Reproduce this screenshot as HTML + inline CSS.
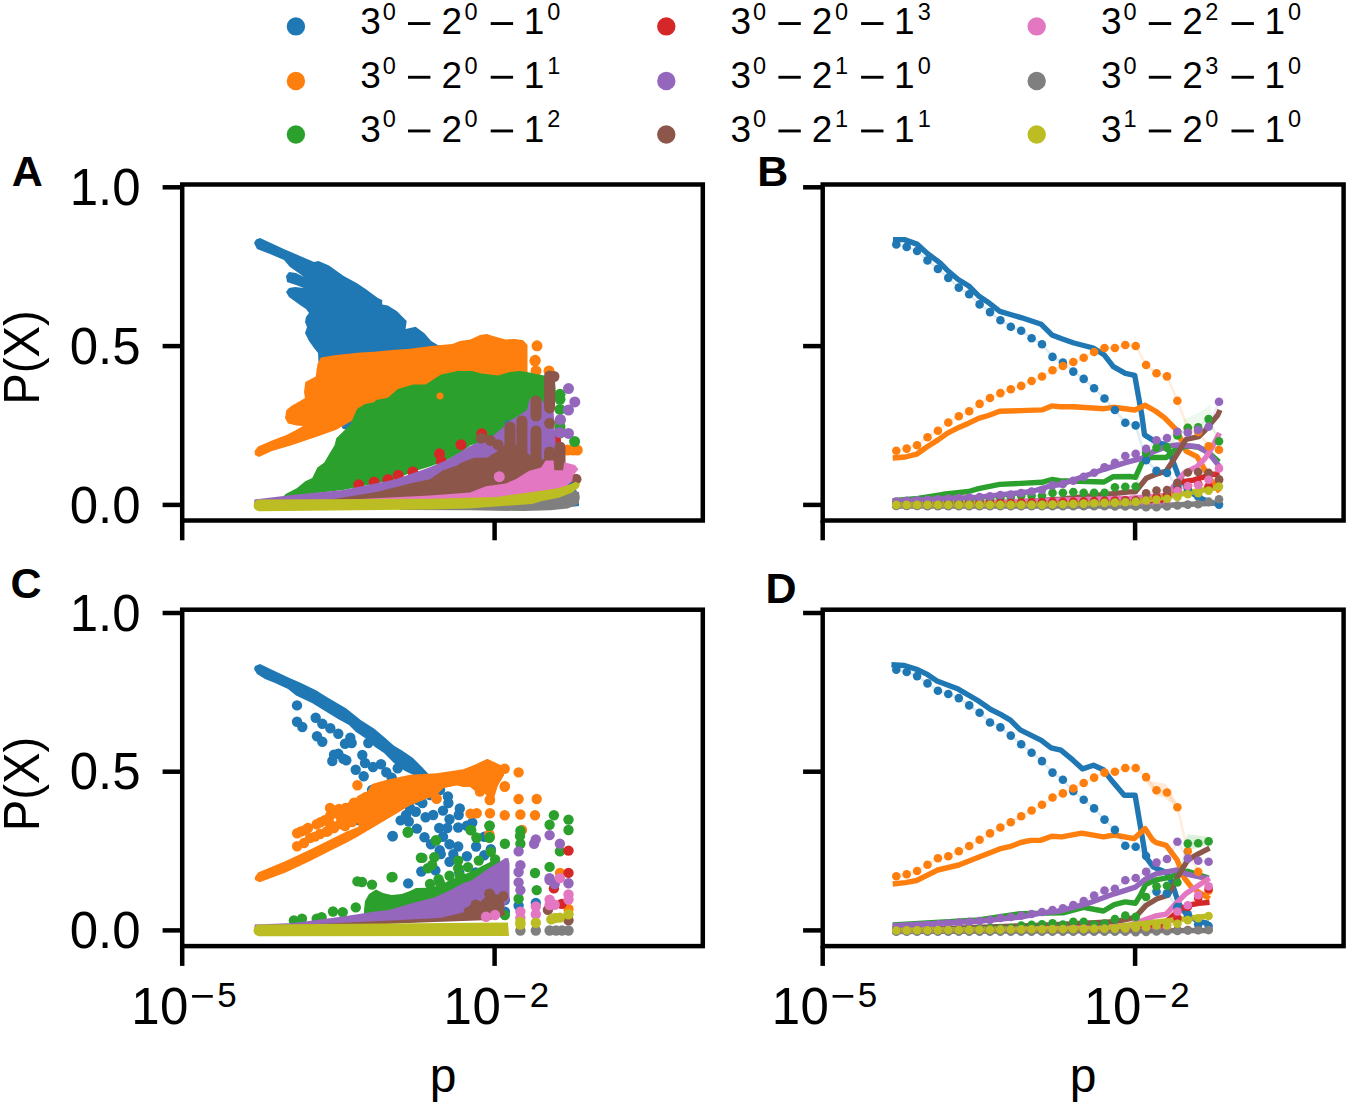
<!DOCTYPE html><html><head><meta charset="utf-8"><style>html,body{margin:0;padding:0;background:#fff;}svg{display:block;}</style></head><body>
<svg width="1350" height="1105" viewBox="0 0 1350 1105">
<rect width="1350" height="1105" fill="#fff"/>
<g>
<polygon points="254.0,243.0 256.0,239.5 260.0,238.0 284.4,249.3 314.0,261.9 318.5,261.1 329.0,265.6 336.3,270.7 343.7,275.9 357.0,283.3 366.0,289.3 377.8,298.1 382.2,300.0 382.2,304.4 387.8,305.6 396.7,311.1 406.7,321.1 405.6,328.9 415.6,326.7 424.4,333.3 431.1,341.1 437.8,345.0 445.0,347.0 500.0,362.0 530.0,400.0 560.0,450.0 579.0,497.0 579.0,506.0 570.0,507.0 560.0,480.0 500.0,440.0 420.0,420.0 380.0,421.0 362.0,425.0 352.0,430.5 343.0,429.0 338.0,420.0 330.0,390.0 318.5,362.0 318.0,353.0 314.0,348.0 309.0,341.0 305.0,333.0 307.0,327.0 305.0,322.0 306.0,317.0 309.0,313.0 306.0,309.0 300.0,305.0 289.0,297.0 286.0,292.0 289.0,288.0 295.0,287.0 304.0,288.0 296.0,285.0 287.0,282.0 286.0,276.0 289.0,272.0 296.0,273.0 304.0,277.0 300.0,274.0 290.0,267.0 284.0,260.0 270.0,254.0 257.0,249.0" fill="#1f77b4"/>
<polygon points="254.6,451.0 258.0,446.5 272.0,440.5 286.4,434.9 296.0,430.0 303.0,426.0 296.7,425.5 288.0,423.5 285.0,418.0 286.4,410.0 291.6,405.7 300.0,401.0 305.0,398.0 304.0,392.0 305.3,382.0 315.7,376.4 317.4,364.4 320.8,357.5 336.3,355.0 341.1,354.4 360.4,352.4 374.4,351.7 394.8,349.8 407.8,348.9 429.2,346.3 441.1,345.0 452.2,343.9 460.0,341.0 470.3,339.5 480.0,335.0 486.7,333.9 493.0,336.0 505.6,339.5 515.0,339.0 523.2,340.2 527.5,345.0 527.5,380.0 500.0,390.0 450.0,400.0 400.0,410.0 360.4,416.0 336.3,429.7 317.4,436.6 291.6,445.2 272.0,451.0 259.0,457.0 255.0,455.0" fill="#ff7f0e"/>
<g fill="#ff7f0e"><circle cx="537.0" cy="345.8" r="5.5"/><circle cx="535.2" cy="360.3" r="5.5"/><circle cx="535.0" cy="361.0" r="5.5"/><circle cx="536.0" cy="370.9" r="5.5"/><circle cx="549.0" cy="370.9" r="5.5"/><circle cx="567.5" cy="450.1" r="5.5"/><circle cx="573.0" cy="450.1" r="5.5"/><circle cx="577.3" cy="450.1" r="5.5"/></g>
<polygon points="283.0,497.0 285.6,494.0 296.7,488.2 305.3,481.3 312.2,477.9 317.4,467.6 324.3,462.4 329.4,453.8 334.6,445.2 336.3,438.3 343.2,431.5 350.0,425.0 357.0,409.1 365.0,404.0 374.1,402.2 376.0,400.0 387.8,397.8 397.8,388.9 413.3,384.4 425.6,384.4 441.1,374.4 457.8,371.1 472.2,371.1 480.0,373.3 498.0,375.4 510.0,372.0 519.7,370.9 527.0,372.0 536.0,374.1 550.1,376.5 555.0,382.0 556.0,395.0 553.4,409.0 541.5,405.0 527.3,418.6 505.6,420.8 501.8,431.3 495.5,438.9 470.3,445.2 462.7,451.5 446.4,460.3 430.0,466.6 412.0,472.0 394.8,479.6 343.2,490.0 291.6,496.0 285.0,499.0" fill="#2ca02c"/>
<g fill="#2ca02c"><circle cx="560.0" cy="394.3" r="5.5"/><circle cx="560.0" cy="399.3" r="5.5"/><circle cx="560.0" cy="409.4" r="5.5"/><circle cx="560.0" cy="420.8" r="5.5"/><circle cx="560.0" cy="427.0" r="5.5"/><circle cx="560.0" cy="433.0" r="5.5"/><circle cx="574.6" cy="441.5" r="5.5"/></g>
<g fill="#ff7f0e"><circle cx="440.0" cy="396.0" r="3.5"/></g>
<g fill="#d62728"><circle cx="358.7" cy="484.8" r="5.5"/><circle cx="374.1" cy="482.2" r="5.5"/><circle cx="387.9" cy="479.6" r="5.5"/><circle cx="398.2" cy="475.3" r="5.5"/><circle cx="412.8" cy="471.9" r="5.5"/><circle cx="439.5" cy="453.8" r="5.5"/><circle cx="441.3" cy="461.5" r="5.5"/><circle cx="461.0" cy="444.7" r="5.5"/><circle cx="481.7" cy="433.8" r="5.5"/><circle cx="544.7" cy="414.3" r="5.5"/><circle cx="555.6" cy="440.4" r="5.5"/></g>
<polygon points="254.0,503.0 254.6,499.4 291.6,495.0 343.2,490.0 394.8,479.6 429.2,467.6 446.4,460.3 460.0,452.3 470.0,446.0 492.6,436.0 503.4,427.3 505.6,423.0 515.0,418.0 527.0,410.0 529.5,399.0 540.0,398.0 545.0,404.0 553.4,408.9 556.0,447.0 554.5,458.0 540.0,475.0 500.0,495.0 400.0,505.0 254.0,507.0" fill="#9467bd"/>
<g fill="#9467bd"><circle cx="568.5" cy="388.6" r="5.5"/><circle cx="574.8" cy="401.9" r="5.5"/><circle cx="568.5" cy="410.0" r="5.5"/><circle cx="560.4" cy="419.5" r="5.5"/><circle cx="568.5" cy="433.4" r="5.5"/><circle cx="559.7" cy="432.6" r="5.5"/><circle cx="535.0" cy="409.0" r="5.5"/><circle cx="545.0" cy="415.0" r="5.5"/></g>
<polygon points="300.0,504.0 340.0,498.0 377.6,491.7 412.0,483.0 430.0,479.2 442.6,470.4 457.7,465.3 460.0,463.2 474.0,457.7 487.0,457.7 495.8,452.3 505.0,445.0 510.0,440.0 516.0,445.0 521.0,450.0 530.0,455.0 540.0,460.0 548.0,458.0 556.0,462.0 562.0,466.0 564.0,475.0 555.0,485.0 530.0,492.0 500.0,497.0 400.0,503.0 300.0,507.0" fill="#8c564b"/>
<polyline points="510.0,427.0 510.0,478.0" fill="none" stroke="#8c564b" stroke-width="11" stroke-linecap="round" stroke-linejoin="round"/>
<polyline points="521.9,421.0 521.9,478.0" fill="none" stroke="#8c564b" stroke-width="11" stroke-linecap="round" stroke-linejoin="round"/>
<polyline points="536.0,401.0 536.0,416.0" fill="none" stroke="#8c564b" stroke-width="11" stroke-linecap="round" stroke-linejoin="round"/>
<polyline points="536.0,431.0 536.0,460.0" fill="none" stroke="#8c564b" stroke-width="11" stroke-linecap="round" stroke-linejoin="round"/>
<polyline points="549.6,376.0 549.6,408.0" fill="none" stroke="#8c564b" stroke-width="11" stroke-linecap="round" stroke-linejoin="round"/>
<polyline points="549.6,452.0 549.6,468.0" fill="none" stroke="#8c564b" stroke-width="11" stroke-linecap="round" stroke-linejoin="round"/>
<polyline points="560.0,447.0 560.0,468.0" fill="none" stroke="#8c564b" stroke-width="11" stroke-linecap="round" stroke-linejoin="round"/>
<g fill="#8c564b"><circle cx="549.6" cy="423.3" r="5.5"/><circle cx="576.0" cy="479.2" r="5.5"/><circle cx="481.2" cy="438.2" r="5.5"/><circle cx="490.4" cy="440.4" r="5.5"/><circle cx="498.0" cy="444.7" r="5.5"/><circle cx="554.0" cy="376.5" r="5.5"/></g>
<polygon points="300.0,502.0 430.0,495.6 470.0,492.4 486.0,486.2 505.6,483.6 516.2,479.1 528.7,471.1 541.1,467.6 545.6,460.4 553.6,460.4 554.4,470.2 563.0,470.2 564.2,462.2 574.9,464.9 578.4,469.3 573.1,475.6 572.2,481.0 560.0,492.0 500.0,500.0 430.0,503.0 300.0,506.0" fill="#e377c2"/>
<g fill="#e377c2"><circle cx="499.3" cy="476.7" r="5.5"/></g>
<polygon points="400.0,505.0 540.0,500.0 570.0,490.0 579.0,492.0 579.8,497.8 578.4,504.0 567.8,508.4 550.0,510.2 523.3,511.1 470.0,510.2 400.0,510.0" fill="#7f7f7f"/>
<polygon points="259.4,499.6 430.0,498.7 470.0,497.8 496.7,496.9 523.3,493.3 541.1,490.7 558.9,488.0 569.6,484.4 575.8,481.8 580.0,484.0 578.4,488.0 572.2,492.4 558.9,497.8 541.1,501.3 532.2,504.0 505.6,505.8 470.0,508.4 430.0,509.4 259.4,511.2" fill="#bcbd22"/>
<g fill="#bcbd22"><circle cx="259.4" cy="505.4" r="5.8"/></g>
</g>
<g>
<polygon points="1183.0,420.0 1200.0,412.0 1210.0,405.0 1212.0,415.0 1200.0,425.0 1186.0,432.0" fill="#2ca02c" fill-opacity="0.08"/>
<polyline points="893.0,239.6 904.4,239.6 917.5,244.4 927.3,253.4 940.3,263.2 948.4,271.3 958.2,279.5 968.8,286.0 979.4,296.6 989.2,303.1 999.8,311.3 1010.4,314.5 1021.8,317.8 1041.3,324.3 1051.9,334.9 1062.5,339.0 1073.9,343.0 1093.3,348.0 1104.0,354.7 1113.3,366.7 1125.3,373.3 1134.7,375.3 1141.8,415.0 1144.5,434.9 1156.2,442.1 1166.7,445.0 1171.6,457.5 1178.0,474.7 1181.0,479.0 1190.0,492.0 1200.0,498.0 1210.0,502.0 1220.0,505.0" fill="none" stroke="#1f77b4" stroke-width="5.4" stroke-linejoin="round" stroke-linecap="butt"/>
<polyline points="892.7,458.0 905.3,457.0 916.6,454.2 926.4,447.2 937.7,440.1 947.6,433.1 958.8,427.4 968.7,423.2 978.5,418.3 988.4,415.5 999.6,411.3 1020.7,410.6 1041.9,409.9 1051.7,405.9 1060.0,406.7 1073.3,406.7 1104.0,408.7 1113.3,407.3 1134.7,410.0 1145.3,405.3 1155.3,411.0 1164.4,417.7 1175.2,428.6 1182.5,442.1 1186.1,451.2 1197.0,456.6 1202.4,465.7 1208.7,476.5 1214.2,484.7 1219.6,491.9" fill="none" stroke="#ff7f0e" stroke-width="5.4" stroke-linejoin="round" stroke-linecap="butt"/>
<polyline points="892.7,500.6 918.0,498.5 943.3,494.3 968.7,491.5 978.5,488.7 999.6,484.4 1041.9,482.3 1051.7,479.5 1060.0,480.7 1104.0,482.0 1113.3,476.7 1130.0,476.5 1135.4,477.4 1141.8,463.0 1145.8,457.5 1166.2,457.5 1175.2,449.4 1188.0,446.0 1198.0,447.0 1208.0,452.0 1219.0,462.0" fill="none" stroke="#2ca02c" stroke-width="5.4" stroke-linejoin="round" stroke-linecap="butt"/>
<polyline points="892.7,505.0 1160.0,502.0 1169.8,492.8 1180.7,482.0 1193.3,480.2 1202.4,477.4 1208.7,474.7 1219.6,473.8" fill="none" stroke="#d62728" stroke-width="5.4" stroke-linejoin="round" stroke-linecap="butt"/>
<polyline points="892.7,501.3 978.5,497.1 999.6,495.0 1032.0,491.5 1053.0,485.2 1060.0,484.7 1104.0,469.3 1125.3,462.7 1141.8,458.4 1152.6,452.1 1166.2,446.7 1177.1,444.9 1197.9,446.7 1208.7,453.0 1219.6,466.6" fill="none" stroke="#9467bd" stroke-width="5.4" stroke-linejoin="round" stroke-linecap="butt"/>
<polyline points="892.7,505.0 1000.0,503.0 1060.0,499.3 1130.0,491.9 1135.4,491.9 1146.3,478.3 1157.1,473.8 1166.2,471.1 1173.4,460.2 1186.1,439.4 1198.8,436.7 1205.1,430.4 1217.8,415.0 1220.0,410.0" fill="none" stroke="#8c564b" stroke-width="5.4" stroke-linejoin="round" stroke-linecap="butt"/>
<polyline points="892.7,505.0 1130.0,498.3 1166.2,495.5 1177.1,482.0 1184.3,472.9 1197.0,466.6 1205.1,458.4 1211.4,448.5 1219.6,433.1" fill="none" stroke="#e377c2" stroke-width="5.4" stroke-linejoin="round" stroke-linecap="butt"/>
<polyline points="892.7,506.0 1150.0,506.0 1220.0,503.0" fill="none" stroke="#7f7f7f" stroke-width="5.4" stroke-linejoin="round" stroke-linecap="butt"/>
<polyline points="892.7,505.0 1130.0,503.0 1220.0,487.0" fill="none" stroke="#bcbd22" stroke-width="5.4" stroke-linejoin="round" stroke-linecap="butt"/>
<polyline points="896.3,244.4 906.7,246.9 917.1,251.0 927.5,260.4 937.9,268.9 948.3,277.9 958.8,287.6 969.2,294.2 979.6,304.4 990.0,312.1 1000.4,320.2 1010.8,326.7 1021.2,330.8 1031.6,338.2 1042.0,344.2 1052.5,356.9 1062.9,362.6 1073.3,371.6 1083.7,378.9 1094.1,388.2 1104.5,398.5 1114.9,410.0 1125.3,422.7 1135.7,425.4 1146.1,460.2 1156.5,470.7 1167.0,472.9 1177.4,486.5 1187.8,489.0 1198.2,496.4 1208.6,501.9 1219.0,504.6" fill="none" stroke="#1f77b4" stroke-opacity="0.14" stroke-width="2.6" stroke-linejoin="round"/>
<g fill="#1f77b4"><circle cx="896.3" cy="244.4" r="4.3"/><circle cx="906.7" cy="246.9" r="4.3"/><circle cx="917.1" cy="251.0" r="4.3"/><circle cx="927.5" cy="260.4" r="4.3"/><circle cx="937.9" cy="268.9" r="4.3"/><circle cx="948.3" cy="277.9" r="4.3"/><circle cx="958.8" cy="287.6" r="4.3"/><circle cx="969.2" cy="294.2" r="4.3"/><circle cx="979.6" cy="304.4" r="4.3"/><circle cx="990.0" cy="312.1" r="4.3"/><circle cx="1000.4" cy="320.2" r="4.3"/><circle cx="1010.8" cy="326.7" r="4.3"/><circle cx="1021.2" cy="330.8" r="4.3"/><circle cx="1031.6" cy="338.2" r="4.3"/><circle cx="1042.0" cy="344.2" r="4.3"/><circle cx="1052.5" cy="356.9" r="4.3"/><circle cx="1062.9" cy="362.6" r="4.3"/><circle cx="1073.3" cy="371.6" r="4.3"/><circle cx="1083.7" cy="378.9" r="4.3"/><circle cx="1094.1" cy="388.2" r="4.3"/><circle cx="1104.5" cy="398.5" r="4.3"/><circle cx="1114.9" cy="410.0" r="4.3"/><circle cx="1125.3" cy="422.7" r="4.3"/><circle cx="1135.7" cy="425.4" r="4.3"/><circle cx="1146.1" cy="460.2" r="4.3"/><circle cx="1156.5" cy="470.7" r="4.3"/><circle cx="1167.0" cy="472.9" r="4.3"/><circle cx="1177.4" cy="486.5" r="4.3"/><circle cx="1187.8" cy="489.0" r="4.3"/><circle cx="1198.2" cy="496.4" r="4.3"/><circle cx="1208.6" cy="501.9" r="4.3"/><circle cx="1219.0" cy="504.6" r="4.3"/></g>
<polyline points="896.3,450.7 906.7,448.6 917.1,445.3 927.5,437.3 937.9,430.7 948.3,422.5 958.8,416.2 969.2,411.3 979.6,403.9 990.0,398.0 1000.4,393.1 1010.8,389.2 1021.2,385.9 1031.6,381.0 1042.0,376.5 1052.5,370.3 1062.9,366.0 1073.3,362.0 1083.7,357.7 1094.1,352.0 1104.5,348.0 1114.9,348.0 1125.3,345.0 1135.7,346.0 1146.1,365.0 1156.5,373.3 1167.0,376.4 1177.4,400.7 1187.8,428.0 1198.2,432.0 1208.6,446.2 1219.0,449.8" fill="none" stroke="#ff7f0e" stroke-opacity="0.14" stroke-width="2.6" stroke-linejoin="round"/>
<g fill="#ff7f0e"><circle cx="896.3" cy="450.7" r="4.3"/><circle cx="906.7" cy="448.6" r="4.3"/><circle cx="917.1" cy="445.3" r="4.3"/><circle cx="927.5" cy="437.3" r="4.3"/><circle cx="937.9" cy="430.7" r="4.3"/><circle cx="948.3" cy="422.5" r="4.3"/><circle cx="958.8" cy="416.2" r="4.3"/><circle cx="969.2" cy="411.3" r="4.3"/><circle cx="979.6" cy="403.9" r="4.3"/><circle cx="990.0" cy="398.0" r="4.3"/><circle cx="1000.4" cy="393.1" r="4.3"/><circle cx="1010.8" cy="389.2" r="4.3"/><circle cx="1021.2" cy="385.9" r="4.3"/><circle cx="1031.6" cy="381.0" r="4.3"/><circle cx="1042.0" cy="376.5" r="4.3"/><circle cx="1052.5" cy="370.3" r="4.3"/><circle cx="1062.9" cy="366.0" r="4.3"/><circle cx="1073.3" cy="362.0" r="4.3"/><circle cx="1083.7" cy="357.7" r="4.3"/><circle cx="1094.1" cy="352.0" r="4.3"/><circle cx="1104.5" cy="348.0" r="4.3"/><circle cx="1114.9" cy="348.0" r="4.3"/><circle cx="1125.3" cy="345.0" r="4.3"/><circle cx="1135.7" cy="346.0" r="4.3"/><circle cx="1146.1" cy="365.0" r="4.3"/><circle cx="1156.5" cy="373.3" r="4.3"/><circle cx="1167.0" cy="376.4" r="4.3"/><circle cx="1177.4" cy="400.7" r="4.3"/><circle cx="1187.8" cy="428.0" r="4.3"/><circle cx="1198.2" cy="432.0" r="4.3"/><circle cx="1208.6" cy="446.2" r="4.3"/><circle cx="1219.0" cy="449.8" r="4.3"/></g>
<polyline points="896.3,504.0 906.7,504.0 917.1,503.5 927.5,503.0 937.9,502.5 948.3,502.0 958.8,501.5 969.2,501.0 979.6,500.0 990.0,499.0 1000.4,498.0 1010.8,497.0 1021.2,495.7 1031.6,495.7 1042.0,495.7 1052.5,492.9 1062.9,492.7 1073.3,492.0 1083.7,492.7 1094.1,492.7 1104.5,492.7 1114.9,487.3 1125.3,486.7 1135.7,486.5 1146.1,453.0 1156.5,447.6 1167.0,447.6 1177.4,435.4 1187.8,427.7 1198.2,427.2 1208.6,419.1 1219.0,441.2" fill="none" stroke="#2ca02c" stroke-opacity="0.14" stroke-width="2.6" stroke-linejoin="round"/>
<g fill="#2ca02c"><circle cx="896.3" cy="504.0" r="4.3"/><circle cx="906.7" cy="504.0" r="4.3"/><circle cx="917.1" cy="503.5" r="4.3"/><circle cx="927.5" cy="503.0" r="4.3"/><circle cx="937.9" cy="502.5" r="4.3"/><circle cx="948.3" cy="502.0" r="4.3"/><circle cx="958.8" cy="501.5" r="4.3"/><circle cx="969.2" cy="501.0" r="4.3"/><circle cx="979.6" cy="500.0" r="4.3"/><circle cx="990.0" cy="499.0" r="4.3"/><circle cx="1000.4" cy="498.0" r="4.3"/><circle cx="1010.8" cy="497.0" r="4.3"/><circle cx="1021.2" cy="495.7" r="4.3"/><circle cx="1031.6" cy="495.7" r="4.3"/><circle cx="1042.0" cy="495.7" r="4.3"/><circle cx="1052.5" cy="492.9" r="4.3"/><circle cx="1062.9" cy="492.7" r="4.3"/><circle cx="1073.3" cy="492.0" r="4.3"/><circle cx="1083.7" cy="492.7" r="4.3"/><circle cx="1094.1" cy="492.7" r="4.3"/><circle cx="1104.5" cy="492.7" r="4.3"/><circle cx="1114.9" cy="487.3" r="4.3"/><circle cx="1125.3" cy="486.7" r="4.3"/><circle cx="1135.7" cy="486.5" r="4.3"/><circle cx="1146.1" cy="453.0" r="4.3"/><circle cx="1156.5" cy="447.6" r="4.3"/><circle cx="1167.0" cy="447.6" r="4.3"/><circle cx="1177.4" cy="435.4" r="4.3"/><circle cx="1187.8" cy="427.7" r="4.3"/><circle cx="1198.2" cy="427.2" r="4.3"/><circle cx="1208.6" cy="419.1" r="4.3"/><circle cx="1219.0" cy="441.2" r="4.3"/></g>
<polyline points="896.3,505.0 906.7,504.8 917.1,504.6 927.5,504.4 937.9,504.2 948.3,504.0 958.8,503.8 969.2,503.5 979.6,503.3 990.0,503.1 1000.4,502.9 1010.8,502.7 1021.2,502.5 1031.6,502.3 1042.0,502.1 1052.5,501.9 1062.9,501.7 1073.3,501.5 1083.7,501.2 1094.1,501.0 1104.5,500.8 1114.9,500.6 1125.3,500.4 1135.7,500.2 1146.1,500.0 1156.5,497.0 1167.0,495.0 1177.4,490.0 1187.8,486.0 1198.2,484.0 1208.6,486.5 1219.0,480.0" fill="none" stroke="#d62728" stroke-opacity="0.14" stroke-width="2.6" stroke-linejoin="round"/>
<g fill="#d62728"><circle cx="896.3" cy="505.0" r="4.3"/><circle cx="906.7" cy="504.8" r="4.3"/><circle cx="917.1" cy="504.6" r="4.3"/><circle cx="927.5" cy="504.4" r="4.3"/><circle cx="937.9" cy="504.2" r="4.3"/><circle cx="948.3" cy="504.0" r="4.3"/><circle cx="958.8" cy="503.8" r="4.3"/><circle cx="969.2" cy="503.5" r="4.3"/><circle cx="979.6" cy="503.3" r="4.3"/><circle cx="990.0" cy="503.1" r="4.3"/><circle cx="1000.4" cy="502.9" r="4.3"/><circle cx="1010.8" cy="502.7" r="4.3"/><circle cx="1021.2" cy="502.5" r="4.3"/><circle cx="1031.6" cy="502.3" r="4.3"/><circle cx="1042.0" cy="502.1" r="4.3"/><circle cx="1052.5" cy="501.9" r="4.3"/><circle cx="1062.9" cy="501.7" r="4.3"/><circle cx="1073.3" cy="501.5" r="4.3"/><circle cx="1083.7" cy="501.2" r="4.3"/><circle cx="1094.1" cy="501.0" r="4.3"/><circle cx="1104.5" cy="500.8" r="4.3"/><circle cx="1114.9" cy="500.6" r="4.3"/><circle cx="1125.3" cy="500.4" r="4.3"/><circle cx="1135.7" cy="500.2" r="4.3"/><circle cx="1146.1" cy="500.0" r="4.3"/><circle cx="1156.5" cy="497.0" r="4.3"/><circle cx="1167.0" cy="495.0" r="4.3"/><circle cx="1177.4" cy="490.0" r="4.3"/><circle cx="1187.8" cy="486.0" r="4.3"/><circle cx="1198.2" cy="484.0" r="4.3"/><circle cx="1208.6" cy="486.5" r="4.3"/><circle cx="1219.0" cy="480.0" r="4.3"/></g>
<polyline points="896.3,501.5 906.7,500.9 917.1,500.4 927.5,499.8 937.9,499.2 948.3,498.6 958.8,498.1 969.2,497.5 979.6,497.1 990.0,496.4 1000.4,495.0 1010.8,494.6 1021.2,493.0 1031.6,491.5 1042.0,490.0 1052.5,485.2 1062.9,484.0 1073.3,480.7 1083.7,476.7 1094.1,472.7 1104.5,467.3 1114.9,462.7 1125.3,456.0 1135.7,453.9 1146.1,448.9 1156.5,440.3 1167.0,438.1 1177.4,431.7 1187.8,432.6 1198.2,429.9 1208.6,426.8 1219.0,401.7" fill="none" stroke="#9467bd" stroke-opacity="0.14" stroke-width="2.6" stroke-linejoin="round"/>
<g fill="#9467bd"><circle cx="896.3" cy="501.5" r="4.3"/><circle cx="906.7" cy="500.9" r="4.3"/><circle cx="917.1" cy="500.4" r="4.3"/><circle cx="927.5" cy="499.8" r="4.3"/><circle cx="937.9" cy="499.2" r="4.3"/><circle cx="948.3" cy="498.6" r="4.3"/><circle cx="958.8" cy="498.1" r="4.3"/><circle cx="969.2" cy="497.5" r="4.3"/><circle cx="979.6" cy="497.1" r="4.3"/><circle cx="990.0" cy="496.4" r="4.3"/><circle cx="1000.4" cy="495.0" r="4.3"/><circle cx="1010.8" cy="494.6" r="4.3"/><circle cx="1021.2" cy="493.0" r="4.3"/><circle cx="1031.6" cy="491.5" r="4.3"/><circle cx="1042.0" cy="490.0" r="4.3"/><circle cx="1052.5" cy="485.2" r="4.3"/><circle cx="1062.9" cy="484.0" r="4.3"/><circle cx="1073.3" cy="480.7" r="4.3"/><circle cx="1083.7" cy="476.7" r="4.3"/><circle cx="1094.1" cy="472.7" r="4.3"/><circle cx="1104.5" cy="467.3" r="4.3"/><circle cx="1114.9" cy="462.7" r="4.3"/><circle cx="1125.3" cy="456.0" r="4.3"/><circle cx="1135.7" cy="453.9" r="4.3"/><circle cx="1146.1" cy="448.9" r="4.3"/><circle cx="1156.5" cy="440.3" r="4.3"/><circle cx="1167.0" cy="438.1" r="4.3"/><circle cx="1177.4" cy="431.7" r="4.3"/><circle cx="1187.8" cy="432.6" r="4.3"/><circle cx="1198.2" cy="429.9" r="4.3"/><circle cx="1208.6" cy="426.8" r="4.3"/><circle cx="1219.0" cy="401.7" r="4.3"/></g>
<polyline points="896.3,505.5 906.7,505.4 917.1,505.4 927.5,505.3 937.9,505.2 948.3,505.2 958.8,505.1 969.2,505.0 979.6,505.0 990.0,504.9 1000.4,504.8 1010.8,504.8 1021.2,504.7 1031.6,504.6 1042.0,504.6 1052.5,504.5 1062.9,504.5 1073.3,504.0 1083.7,503.5 1094.1,503.0 1104.5,502.5 1114.9,502.0 1125.3,501.5 1135.7,501.0 1146.1,493.3 1156.5,490.6 1167.0,490.1 1177.4,482.9 1187.8,472.5 1198.2,472.0 1208.6,472.9 1219.0,479.3" fill="none" stroke="#8c564b" stroke-opacity="0.14" stroke-width="2.6" stroke-linejoin="round"/>
<g fill="#8c564b"><circle cx="896.3" cy="505.5" r="4.3"/><circle cx="906.7" cy="505.4" r="4.3"/><circle cx="917.1" cy="505.4" r="4.3"/><circle cx="927.5" cy="505.3" r="4.3"/><circle cx="937.9" cy="505.2" r="4.3"/><circle cx="948.3" cy="505.2" r="4.3"/><circle cx="958.8" cy="505.1" r="4.3"/><circle cx="969.2" cy="505.0" r="4.3"/><circle cx="979.6" cy="505.0" r="4.3"/><circle cx="990.0" cy="504.9" r="4.3"/><circle cx="1000.4" cy="504.8" r="4.3"/><circle cx="1010.8" cy="504.8" r="4.3"/><circle cx="1021.2" cy="504.7" r="4.3"/><circle cx="1031.6" cy="504.6" r="4.3"/><circle cx="1042.0" cy="504.6" r="4.3"/><circle cx="1052.5" cy="504.5" r="4.3"/><circle cx="1062.9" cy="504.5" r="4.3"/><circle cx="1073.3" cy="504.0" r="4.3"/><circle cx="1083.7" cy="503.5" r="4.3"/><circle cx="1094.1" cy="503.0" r="4.3"/><circle cx="1104.5" cy="502.5" r="4.3"/><circle cx="1114.9" cy="502.0" r="4.3"/><circle cx="1125.3" cy="501.5" r="4.3"/><circle cx="1135.7" cy="501.0" r="4.3"/><circle cx="1146.1" cy="493.3" r="4.3"/><circle cx="1156.5" cy="490.6" r="4.3"/><circle cx="1167.0" cy="490.1" r="4.3"/><circle cx="1177.4" cy="482.9" r="4.3"/><circle cx="1187.8" cy="472.5" r="4.3"/><circle cx="1198.2" cy="472.0" r="4.3"/><circle cx="1208.6" cy="472.9" r="4.3"/><circle cx="1219.0" cy="479.3" r="4.3"/></g>
<polyline points="896.3,505.5 906.7,505.5 917.1,505.4 927.5,505.4 937.9,505.3 948.3,505.3 958.8,505.3 969.2,505.2 979.6,505.2 990.0,505.2 1000.4,505.1 1010.8,505.1 1021.2,505.0 1031.6,505.0 1042.0,505.0 1052.5,504.9 1062.9,504.9 1073.3,504.8 1083.7,504.8 1094.1,504.8 1104.5,504.7 1114.9,504.7 1125.3,504.7 1135.7,504.6 1146.1,504.6 1156.5,504.5 1167.0,504.5 1177.4,491.0 1187.8,486.0 1198.2,485.1 1208.6,479.7 1219.0,468.4" fill="none" stroke="#e377c2" stroke-opacity="0.14" stroke-width="2.6" stroke-linejoin="round"/>
<g fill="#e377c2"><circle cx="896.3" cy="505.5" r="4.3"/><circle cx="906.7" cy="505.5" r="4.3"/><circle cx="917.1" cy="505.4" r="4.3"/><circle cx="927.5" cy="505.4" r="4.3"/><circle cx="937.9" cy="505.3" r="4.3"/><circle cx="948.3" cy="505.3" r="4.3"/><circle cx="958.8" cy="505.3" r="4.3"/><circle cx="969.2" cy="505.2" r="4.3"/><circle cx="979.6" cy="505.2" r="4.3"/><circle cx="990.0" cy="505.2" r="4.3"/><circle cx="1000.4" cy="505.1" r="4.3"/><circle cx="1010.8" cy="505.1" r="4.3"/><circle cx="1021.2" cy="505.0" r="4.3"/><circle cx="1031.6" cy="505.0" r="4.3"/><circle cx="1042.0" cy="505.0" r="4.3"/><circle cx="1052.5" cy="504.9" r="4.3"/><circle cx="1062.9" cy="504.9" r="4.3"/><circle cx="1073.3" cy="504.8" r="4.3"/><circle cx="1083.7" cy="504.8" r="4.3"/><circle cx="1094.1" cy="504.8" r="4.3"/><circle cx="1104.5" cy="504.7" r="4.3"/><circle cx="1114.9" cy="504.7" r="4.3"/><circle cx="1125.3" cy="504.7" r="4.3"/><circle cx="1135.7" cy="504.6" r="4.3"/><circle cx="1146.1" cy="504.6" r="4.3"/><circle cx="1156.5" cy="504.5" r="4.3"/><circle cx="1167.0" cy="504.5" r="4.3"/><circle cx="1177.4" cy="491.0" r="4.3"/><circle cx="1187.8" cy="486.0" r="4.3"/><circle cx="1198.2" cy="485.1" r="4.3"/><circle cx="1208.6" cy="479.7" r="4.3"/><circle cx="1219.0" cy="468.4" r="4.3"/></g>
<polyline points="896.3,506.0 906.7,506.0 917.1,506.0 927.5,506.1 937.9,506.1 948.3,506.1 958.8,506.1 969.2,506.1 979.6,506.1 990.0,506.2 1000.4,506.2 1010.8,506.2 1021.2,506.2 1031.6,506.2 1042.0,506.2 1052.5,506.3 1062.9,506.3 1073.3,506.3 1083.7,506.3 1094.1,506.3 1104.5,506.3 1114.9,506.4 1125.3,506.4 1135.7,506.4 1146.1,507.3 1156.5,507.3 1167.0,506.4 1177.4,505.5 1187.8,504.6 1198.2,504.1 1208.6,501.9 1219.0,499.2" fill="none" stroke="#7f7f7f" stroke-opacity="0.14" stroke-width="2.6" stroke-linejoin="round"/>
<g fill="#7f7f7f"><circle cx="896.3" cy="506.0" r="4.3"/><circle cx="906.7" cy="506.0" r="4.3"/><circle cx="917.1" cy="506.0" r="4.3"/><circle cx="927.5" cy="506.1" r="4.3"/><circle cx="937.9" cy="506.1" r="4.3"/><circle cx="948.3" cy="506.1" r="4.3"/><circle cx="958.8" cy="506.1" r="4.3"/><circle cx="969.2" cy="506.1" r="4.3"/><circle cx="979.6" cy="506.1" r="4.3"/><circle cx="990.0" cy="506.2" r="4.3"/><circle cx="1000.4" cy="506.2" r="4.3"/><circle cx="1010.8" cy="506.2" r="4.3"/><circle cx="1021.2" cy="506.2" r="4.3"/><circle cx="1031.6" cy="506.2" r="4.3"/><circle cx="1042.0" cy="506.2" r="4.3"/><circle cx="1052.5" cy="506.3" r="4.3"/><circle cx="1062.9" cy="506.3" r="4.3"/><circle cx="1073.3" cy="506.3" r="4.3"/><circle cx="1083.7" cy="506.3" r="4.3"/><circle cx="1094.1" cy="506.3" r="4.3"/><circle cx="1104.5" cy="506.3" r="4.3"/><circle cx="1114.9" cy="506.4" r="4.3"/><circle cx="1125.3" cy="506.4" r="4.3"/><circle cx="1135.7" cy="506.4" r="4.3"/><circle cx="1146.1" cy="507.3" r="4.3"/><circle cx="1156.5" cy="507.3" r="4.3"/><circle cx="1167.0" cy="506.4" r="4.3"/><circle cx="1177.4" cy="505.5" r="4.3"/><circle cx="1187.8" cy="504.6" r="4.3"/><circle cx="1198.2" cy="504.1" r="4.3"/><circle cx="1208.6" cy="501.9" r="4.3"/><circle cx="1219.0" cy="499.2" r="4.3"/></g>
<polyline points="896.3,504.9 906.7,504.9 917.1,504.9 927.5,504.9 937.9,504.9 948.3,504.9 958.8,504.9 969.2,504.9 979.6,504.9 990.0,504.9 1000.4,504.9 1010.8,504.9 1021.2,504.9 1031.6,504.9 1042.0,504.9 1052.5,504.5 1062.9,504.2 1073.3,503.9 1083.7,503.6 1094.1,503.2 1104.5,502.9 1114.9,502.6 1125.3,502.3 1135.7,501.9 1146.1,500.5 1156.5,499.6 1167.0,498.7 1177.4,496.9 1187.8,494.2 1198.2,493.3 1208.6,490.6 1219.0,486.5" fill="none" stroke="#bcbd22" stroke-opacity="0.14" stroke-width="2.6" stroke-linejoin="round"/>
<g fill="#bcbd22"><circle cx="896.3" cy="504.9" r="4.3"/><circle cx="906.7" cy="504.9" r="4.3"/><circle cx="917.1" cy="504.9" r="4.3"/><circle cx="927.5" cy="504.9" r="4.3"/><circle cx="937.9" cy="504.9" r="4.3"/><circle cx="948.3" cy="504.9" r="4.3"/><circle cx="958.8" cy="504.9" r="4.3"/><circle cx="969.2" cy="504.9" r="4.3"/><circle cx="979.6" cy="504.9" r="4.3"/><circle cx="990.0" cy="504.9" r="4.3"/><circle cx="1000.4" cy="504.9" r="4.3"/><circle cx="1010.8" cy="504.9" r="4.3"/><circle cx="1021.2" cy="504.9" r="4.3"/><circle cx="1031.6" cy="504.9" r="4.3"/><circle cx="1042.0" cy="504.9" r="4.3"/><circle cx="1052.5" cy="504.5" r="4.3"/><circle cx="1062.9" cy="504.2" r="4.3"/><circle cx="1073.3" cy="503.9" r="4.3"/><circle cx="1083.7" cy="503.6" r="4.3"/><circle cx="1094.1" cy="503.2" r="4.3"/><circle cx="1104.5" cy="502.9" r="4.3"/><circle cx="1114.9" cy="502.6" r="4.3"/><circle cx="1125.3" cy="502.3" r="4.3"/><circle cx="1135.7" cy="501.9" r="4.3"/><circle cx="1146.1" cy="500.5" r="4.3"/><circle cx="1156.5" cy="499.6" r="4.3"/><circle cx="1167.0" cy="498.7" r="4.3"/><circle cx="1177.4" cy="496.9" r="4.3"/><circle cx="1187.8" cy="494.2" r="4.3"/><circle cx="1198.2" cy="493.3" r="4.3"/><circle cx="1208.6" cy="490.6" r="4.3"/><circle cx="1219.0" cy="486.5" r="4.3"/></g>
</g>
<g>
<polygon points="255.0,666.0 260.0,664.0 272.0,669.7 289.0,677.7 301.0,683.0 316.0,690.3 328.0,697.7 346.0,708.3 361.0,720.3 374.0,728.5 385.0,737.7 394.0,745.7 402.0,750.5 413.0,758.0 422.0,767.0 428.0,773.5 434.0,779.0 434.0,784.0 420.0,778.0 405.0,771.0 394.0,763.0 384.0,753.0 375.0,747.0 365.0,738.0 356.0,732.0 349.0,725.0 338.0,719.0 325.0,711.0 312.0,703.0 296.0,695.5 288.0,689.0 275.0,683.0 265.0,679.0 257.0,674.0 254.0,669.0" fill="#1f77b4"/>
<g fill="#1f77b4"><circle cx="297.0" cy="705.4" r="5.2"/><circle cx="297.0" cy="721.7" r="5.2"/><circle cx="302.3" cy="727.0" r="5.2"/><circle cx="315.7" cy="717.7" r="5.2"/><circle cx="322.3" cy="723.7" r="5.2"/><circle cx="330.3" cy="728.3" r="5.2"/><circle cx="338.3" cy="733.7" r="5.2"/><circle cx="317.0" cy="736.3" r="5.2"/><circle cx="322.3" cy="741.7" r="5.2"/><circle cx="350.3" cy="737.7" r="5.2"/><circle cx="345.0" cy="743.7" r="5.2"/><circle cx="351.7" cy="743.0" r="5.2"/><circle cx="338.3" cy="753.7" r="5.2"/><circle cx="346.3" cy="760.3" r="5.2"/><circle cx="332.3" cy="761.0" r="5.2"/><circle cx="355.7" cy="769.7" r="5.2"/><circle cx="363.7" cy="776.3" r="5.2"/><circle cx="362.3" cy="755.0" r="5.2"/><circle cx="365.0" cy="763.0" r="5.2"/><circle cx="368.3" cy="743.0" r="5.2"/><circle cx="373.0" cy="767.0" r="5.2"/><circle cx="381.0" cy="764.3" r="5.2"/><circle cx="386.3" cy="772.3" r="5.2"/><circle cx="391.7" cy="777.7" r="5.2"/><circle cx="397.7" cy="768.3" r="5.2"/><circle cx="343.3" cy="758.7" r="5.2"/><circle cx="334.0" cy="754.7" r="5.2"/><circle cx="358.0" cy="820.0" r="5.2"/><circle cx="392.7" cy="836.0" r="5.2"/><circle cx="372.0" cy="790.0" r="5.2"/><circle cx="380.0" cy="800.0" r="5.2"/><circle cx="392.5" cy="836.2" r="5.2"/><circle cx="400.6" cy="820.4" r="5.2"/><circle cx="408.8" cy="821.5" r="5.2"/><circle cx="406.1" cy="815.0" r="5.2"/><circle cx="415.8" cy="811.7" r="5.2"/><circle cx="422.4" cy="803.0" r="5.2"/><circle cx="416.9" cy="828.6" r="5.2"/><circle cx="424.5" cy="837.2" r="5.2"/><circle cx="425.6" cy="817.2" r="5.2"/><circle cx="433.2" cy="815.0" r="5.2"/><circle cx="431.0" cy="844.3" r="5.2"/><circle cx="439.7" cy="850.3" r="5.2"/><circle cx="440.8" cy="854.1" r="5.2"/><circle cx="439.2" cy="828.0" r="5.2"/><circle cx="443.0" cy="836.7" r="5.2"/><circle cx="447.3" cy="828.0" r="5.2"/><circle cx="449.5" cy="819.3" r="5.2"/><circle cx="443.0" cy="810.6" r="5.2"/><circle cx="448.4" cy="803.0" r="5.2"/><circle cx="447.9" cy="796.5" r="5.2"/><circle cx="459.8" cy="808.5" r="5.2"/><circle cx="458.7" cy="815.0" r="5.2"/><circle cx="458.2" cy="827.5" r="5.2"/><circle cx="449.5" cy="844.3" r="5.2"/><circle cx="458.2" cy="846.5" r="5.2"/><circle cx="453.3" cy="854.1" r="5.2"/><circle cx="449.5" cy="861.7" r="5.2"/><circle cx="466.9" cy="856.2" r="5.2"/><circle cx="472.3" cy="822.6" r="5.2"/><circle cx="466.9" cy="825.8" r="5.2"/><circle cx="476.1" cy="846.5" r="5.2"/><circle cx="484.3" cy="836.7" r="5.2"/><circle cx="490.8" cy="849.2" r="5.2"/><circle cx="484.3" cy="855.2" r="5.2"/><circle cx="421.3" cy="871.5" r="5.2"/><circle cx="435.4" cy="870.4" r="5.2"/><circle cx="459.3" cy="872.5" r="5.2"/><circle cx="408.2" cy="883.4" r="5.2"/><circle cx="468.0" cy="879.0" r="5.2"/><circle cx="475.6" cy="872.5" r="5.2"/><circle cx="495.1" cy="879.0" r="5.2"/><circle cx="410.0" cy="808.0" r="5.2"/><circle cx="418.0" cy="800.0" r="5.2"/><circle cx="430.0" cy="795.0" r="5.2"/><circle cx="440.0" cy="790.0" r="5.2"/><circle cx="489.4" cy="903.0" r="5.2"/><circle cx="504.9" cy="911.6" r="5.2"/><circle cx="518.6" cy="905.6" r="5.2"/><circle cx="535.8" cy="903.0" r="5.2"/><circle cx="504.9" cy="900.0" r="5.2"/></g>
<polygon points="254.8,877.3 258.0,872.4 285.7,861.0 310.2,849.6 326.4,841.4 346.0,831.7 362.3,825.2 375.3,815.4 391.6,805.6 400.0,800.0 410.0,792.0 420.0,786.0 430.0,782.0 440.0,778.0 460.0,774.0 470.0,770.0 476.7,764.0 487.3,759.0 496.0,763.0 500.0,768.0 504.0,775.0 500.0,782.0 495.0,790.0 492.7,802.7 490.0,798.7 483.3,792.0 476.7,792.0 470.0,786.7 463.3,786.7 456.7,785.3 443.3,788.0 436.7,794.7 423.3,800.0 410.0,805.3 396.7,813.3 383.3,821.3 368.8,830.0 356.7,837.3 346.0,843.1 326.4,852.8 310.2,861.0 285.7,872.4 259.7,882.2 255.0,880.0" fill="#ff7f0e"/>
<polygon points="355.0,812.0 362.0,800.0 372.0,784.0 386.0,780.0 410.0,774.7 436.7,773.3 463.3,769.3 476.7,764.0 487.3,759.0 496.0,763.0 503.0,766.0 504.0,775.0 498.0,785.0 492.7,802.7 490.0,798.7 483.3,792.0 476.7,792.0 470.0,786.7 463.3,786.7 456.7,785.3 443.3,788.0 436.7,794.7 423.3,800.0 410.0,805.3 396.7,813.3 383.3,821.3 370.0,829.0 360.0,832.0" fill="#ff7f0e"/>
<g fill="#ff7f0e"><circle cx="297.1" cy="833.3" r="5.2"/><circle cx="301.0" cy="831.5" r="5.2"/><circle cx="305.3" cy="830.0" r="5.2"/><circle cx="297.1" cy="846.3" r="5.2"/><circle cx="315.0" cy="836.6" r="5.2"/><circle cx="320.0" cy="834.0" r="5.2"/><circle cx="326.4" cy="831.7" r="5.2"/><circle cx="334.6" cy="826.8" r="5.2"/><circle cx="341.1" cy="823.5" r="5.2"/><circle cx="316.7" cy="824.3" r="5.2"/><circle cx="320.5" cy="822.3" r="5.2"/><circle cx="324.8" cy="820.3" r="5.2"/><circle cx="333.0" cy="810.5" r="5.2"/><circle cx="339.0" cy="809.0" r="5.2"/><circle cx="346.0" cy="808.0" r="5.2"/><circle cx="350.9" cy="820.3" r="5.2"/><circle cx="359.0" cy="808.9" r="5.2"/><circle cx="363.9" cy="799.1" r="5.2"/><circle cx="357.4" cy="785.2" r="5.2"/><circle cx="354.0" cy="802.7" r="5.2"/><circle cx="363.3" cy="798.7" r="5.2"/><circle cx="346.0" cy="808.0" r="5.2"/><circle cx="330.0" cy="808.0" r="5.2"/><circle cx="350.0" cy="820.0" r="5.2"/><circle cx="330.0" cy="824.0" r="5.2"/><circle cx="504.7" cy="768.7" r="5.2"/><circle cx="504.7" cy="786.7" r="5.2"/><circle cx="490.0" cy="800.0" r="5.2"/><circle cx="490.0" cy="813.3" r="5.2"/><circle cx="470.5" cy="813.6" r="5.2"/><circle cx="476.7" cy="813.3" r="5.2"/><circle cx="504.7" cy="815.3" r="5.2"/><circle cx="436.7" cy="798.7" r="5.2"/><circle cx="518.6" cy="772.4" r="5.2"/><circle cx="518.6" cy="799.0" r="5.2"/><circle cx="536.7" cy="799.0" r="5.2"/><circle cx="504.9" cy="786.1" r="5.2"/><circle cx="489.4" cy="834.3" r="5.2"/><circle cx="522.0" cy="830.0" r="5.2"/><circle cx="520.4" cy="814.5" r="5.2"/><circle cx="535.0" cy="815.3" r="5.2"/><circle cx="568.5" cy="909.0" r="5.2"/><circle cx="560.0" cy="873.0" r="5.2"/><circle cx="489.7" cy="799.8" r="5.2"/><circle cx="479.9" cy="791.6" r="5.2"/><circle cx="436.1" cy="798.1" r="5.2"/><circle cx="308.0" cy="828.0" r="5.2"/><circle cx="328.0" cy="831.0" r="5.2"/><circle cx="334.0" cy="828.0" r="5.2"/><circle cx="340.0" cy="824.0" r="5.2"/><circle cx="330.0" cy="816.0" r="5.2"/><circle cx="352.0" cy="806.0" r="5.2"/><circle cx="340.0" cy="816.0" r="5.2"/><circle cx="346.0" cy="818.0" r="5.2"/><circle cx="351.0" cy="820.0" r="5.2"/><circle cx="361.0" cy="800.0" r="5.2"/><circle cx="366.0" cy="797.0" r="5.2"/><circle cx="352.0" cy="812.0" r="5.2"/><circle cx="358.0" cy="808.0" r="5.2"/><circle cx="364.0" cy="804.0" r="5.2"/><circle cx="345.0" cy="826.0" r="5.2"/><circle cx="352.0" cy="822.0" r="5.2"/><circle cx="358.0" cy="818.0" r="5.2"/><circle cx="310.0" cy="838.0" r="5.2"/><circle cx="304.0" cy="843.0" r="5.2"/></g>
<polygon points="364.0,910.0 365.0,901.0 369.0,894.0 376.0,889.5 383.0,893.0 391.6,895.0 401.7,894.0 410.0,891.0 416.0,888.0 426.7,887.7 439.7,885.6 450.0,880.0 470.0,872.0 490.0,862.0 500.0,858.0 500.0,900.0 364.0,915.0" fill="#2ca02c"/>
<g fill="#2ca02c"><circle cx="293.9" cy="920.4" r="5.2"/><circle cx="302.0" cy="918.8" r="5.2"/><circle cx="316.7" cy="918.8" r="5.2"/><circle cx="321.6" cy="917.2" r="5.2"/><circle cx="333.0" cy="911.5" r="5.2"/><circle cx="342.7" cy="912.3" r="5.2"/><circle cx="355.8" cy="907.4" r="5.2"/><circle cx="357.4" cy="881.4" r="5.2"/><circle cx="362.0" cy="882.0" r="5.2"/><circle cx="372.0" cy="884.6" r="5.2"/><circle cx="391.6" cy="877.3" r="5.2"/><circle cx="407.9" cy="831.7" r="5.2"/><circle cx="420.9" cy="857.7" r="5.2"/><circle cx="408.2" cy="832.4" r="5.2"/><circle cx="435.9" cy="840.5" r="5.2"/><circle cx="471.2" cy="830.2" r="5.2"/><circle cx="476.7" cy="837.8" r="5.2"/><circle cx="489.7" cy="825.8" r="5.2"/><circle cx="489.7" cy="837.2" r="5.2"/><circle cx="490.8" cy="851.9" r="5.2"/><circle cx="422.4" cy="857.9" r="5.2"/><circle cx="434.3" cy="857.3" r="5.2"/><circle cx="427.8" cy="868.2" r="5.2"/><circle cx="432.1" cy="864.9" r="5.2"/><circle cx="458.2" cy="860.6" r="5.2"/><circle cx="458.2" cy="868.2" r="5.2"/><circle cx="468.0" cy="867.1" r="5.2"/><circle cx="478.8" cy="860.6" r="5.2"/><circle cx="495.1" cy="859.5" r="5.2"/><circle cx="449.5" cy="875.8" r="5.2"/><circle cx="438.6" cy="879.1" r="5.2"/><circle cx="392.5" cy="876.9" r="5.2"/><circle cx="470.5" cy="830.0" r="5.2"/><circle cx="476.5" cy="837.7" r="5.2"/><circle cx="504.9" cy="843.7" r="5.2"/><circle cx="520.4" cy="830.8" r="5.2"/><circle cx="520.4" cy="843.7" r="5.2"/><circle cx="553.9" cy="815.3" r="5.2"/><circle cx="549.6" cy="824.8" r="5.2"/><circle cx="568.5" cy="819.6" r="5.2"/><circle cx="568.5" cy="830.0" r="5.2"/><circle cx="559.9" cy="851.4" r="5.2"/><circle cx="549.6" cy="866.9" r="5.2"/><circle cx="535.0" cy="873.0" r="5.2"/><circle cx="536.7" cy="890.1" r="5.2"/><circle cx="518.6" cy="898.7" r="5.2"/><circle cx="504.9" cy="915.1" r="5.2"/><circle cx="498.0" cy="904.7" r="5.2"/><circle cx="489.4" cy="825.7" r="5.2"/><circle cx="489.4" cy="837.7" r="5.2"/><circle cx="436.1" cy="840.3" r="5.2"/><circle cx="407.7" cy="832.5" r="5.2"/><circle cx="520.0" cy="836.0" r="5.2"/><circle cx="504.0" cy="880.0" r="5.2"/><circle cx="440.0" cy="883.0" r="5.2"/><circle cx="430.0" cy="884.0" r="5.2"/><circle cx="460.0" cy="876.0" r="5.2"/></g>
<g fill="#d62728"><circle cx="568.5" cy="850.6" r="5.2"/><circle cx="568.5" cy="872.9" r="5.2"/><circle cx="553.9" cy="888.4" r="5.2"/><circle cx="561.6" cy="903.9" r="5.2"/></g>
<polygon points="254.0,931.0 254.8,924.5 293.9,922.9 342.7,916.4 375.3,911.5 388.7,910.0 412.6,903.0 434.3,897.5 450.6,889.9 462.5,883.4 472.3,880.1 488.6,868.2 499.7,861.8 504.9,858.3 508.3,858.0 509.5,863.5 509.5,900.0 500.0,912.0 450.0,920.0 254.0,932.0" fill="#9467bd"/>
<g fill="#9467bd"><circle cx="518.6" cy="851.4" r="5.2"/><circle cx="520.4" cy="865.2" r="5.2"/><circle cx="518.6" cy="882.4" r="5.2"/><circle cx="520.4" cy="890.1" r="5.2"/><circle cx="535.8" cy="839.4" r="5.2"/><circle cx="534.1" cy="843.7" r="5.2"/><circle cx="549.6" cy="835.1" r="5.2"/><circle cx="559.9" cy="843.7" r="5.2"/><circle cx="549.6" cy="878.1" r="5.2"/><circle cx="554.7" cy="884.1" r="5.2"/><circle cx="568.5" cy="883.3" r="5.2"/><circle cx="518.6" cy="872.0" r="5.2"/><circle cx="549.6" cy="880.0" r="5.2"/></g>
<polygon points="300.0,925.0 380.0,921.0 440.0,918.0 465.0,912.0 470.0,905.0 480.0,902.0 490.0,893.0 503.0,896.0 505.0,915.0 490.0,920.0 300.0,927.0" fill="#8c564b"/>
<g fill="#8c564b"><circle cx="489.4" cy="893.6" r="5.2"/><circle cx="503.2" cy="896.2" r="5.2"/><circle cx="490.3" cy="904.7" r="5.2"/><circle cx="475.7" cy="904.7" r="5.2"/><circle cx="468.8" cy="911.6" r="5.2"/><circle cx="547.9" cy="909.9" r="5.2"/><circle cx="568.5" cy="920.2" r="5.2"/><circle cx="489.7" cy="894.3" r="5.2"/></g>
<g fill="#e377c2"><circle cx="486.0" cy="916.8" r="5.2"/><circle cx="495.0" cy="915.0" r="5.2"/><circle cx="520.4" cy="911.6" r="5.2"/><circle cx="535.8" cy="906.5" r="5.2"/><circle cx="535.8" cy="914.2" r="5.2"/><circle cx="549.6" cy="899.6" r="5.2"/><circle cx="554.7" cy="904.7" r="5.2"/><circle cx="559.9" cy="878.1" r="5.2"/><circle cx="568.5" cy="894.4" r="5.2"/><circle cx="568.5" cy="899.6" r="5.2"/><circle cx="520.4" cy="918.0" r="5.2"/><circle cx="549.6" cy="905.0" r="5.2"/></g>
<g fill="#7f7f7f"><circle cx="520.4" cy="930.5" r="5.2"/><circle cx="535.8" cy="930.5" r="5.2"/><circle cx="549.6" cy="930.5" r="5.2"/><circle cx="556.0" cy="930.5" r="5.2"/><circle cx="562.0" cy="930.5" r="5.2"/><circle cx="568.5" cy="930.5" r="5.2"/></g>
<polygon points="259.4,924.5 508.0,922.5 509.0,936.0 259.4,936.3" fill="#bcbd22"/>
<g fill="#bcbd22"><circle cx="259.4" cy="930.4" r="5.9"/></g>
<g fill="#bcbd22"><circle cx="520.4" cy="924.5" r="5.2"/><circle cx="535.8" cy="922.8" r="5.2"/><circle cx="551.3" cy="919.4" r="5.2"/><circle cx="559.9" cy="917.6" r="5.2"/><circle cx="568.5" cy="914.2" r="5.2"/><circle cx="520.4" cy="922.0" r="5.2"/><circle cx="555.0" cy="918.0" r="5.2"/></g>
</g>
<g>
<polygon points="1139.9,770.9 1149.9,780.9 1165.8,783.8 1176.7,801.8 1175.7,806.7 1163.8,797.8 1155.8,795.8 1147.9,784.9" fill="#ff7f0e" fill-opacity="0.16"/>
<polygon points="1187.7,834.6 1207.6,836.6 1209.6,844.6 1191.7,849.6 1183.7,844.6" fill="#2ca02c" fill-opacity="0.16"/>
<polyline points="891.4,664.7 904.4,665.5 917.5,669.6 927.3,674.4 937.0,681.0 958.2,689.1 977.8,700.5 990.8,709.5 1000.6,714.4 1010.4,720.1 1020.2,729.9 1041.3,740.4 1051.1,747.8 1060.9,750.2 1072.7,759.9 1082.6,768.9 1093.5,765.3 1103.4,769.8 1112.5,781.6 1124.2,795.2 1135.1,795.2 1142.7,840.0 1145.4,856.3 1153.5,867.1 1166.2,872.6 1171.6,881.6 1178.0,901.5 1181.6,908.8 1188.8,916.0 1198.8,921.4 1208.7,923.3" fill="none" stroke="#1f77b4" stroke-width="5.4" stroke-linejoin="round" stroke-linecap="butt"/>
<polyline points="892.7,884.0 905.3,882.6 916.6,880.5 926.4,875.6 937.7,870.0 958.8,865.0 978.5,857.3 999.6,848.9 1009.5,846.7 1020.7,842.5 1030.6,840.4 1040.4,840.4 1051.7,836.2 1061.6,836.9 1081.7,833.2 1103.4,836.8 1114.3,835.0 1134.2,838.6 1145.0,828.6 1152.6,840.0 1156.2,842.7 1166.2,845.4 1177.1,859.9 1180.7,869.0 1184.3,878.0 1191.5,887.1 1200.6,893.4 1209.6,898.8" fill="none" stroke="#ff7f0e" stroke-width="5.4" stroke-linejoin="round" stroke-linecap="butt"/>
<polyline points="892.7,925.0 978.5,920.0 1020.7,913.6 1063.0,912.9 1083.5,907.3 1103.4,911.0 1114.3,904.6 1125.1,901.9 1135.4,903.3 1140.9,894.3 1145.8,884.3 1156.2,879.8 1170.7,877.1 1177.1,873.5 1187.9,871.2 1208.7,878.0" fill="none" stroke="#2ca02c" stroke-width="5.4" stroke-linejoin="round" stroke-linecap="butt"/>
<polyline points="892.7,930.5 1160.0,926.0 1170.7,917.8 1180.7,908.8 1188.8,905.2 1198.8,903.3 1209.6,902.4" fill="none" stroke="#d62728" stroke-width="5.4" stroke-linejoin="round" stroke-linecap="butt"/>
<polyline points="892.7,925.6 978.5,921.3 1020.7,917.1 1041.9,912.9 1060.0,911.0 1087.1,903.7 1114.3,893.8 1130.0,888.9 1135.4,887.1 1145.8,878.9 1156.2,873.9 1177.1,869.9 1187.9,874.4 1208.7,878.9" fill="none" stroke="#9467bd" stroke-width="5.4" stroke-linejoin="round" stroke-linecap="butt"/>
<polyline points="892.7,930.5 1060.0,924.5 1114.3,921.8 1130.0,918.7 1135.4,916.9 1146.3,905.2 1157.1,898.8 1168.0,895.2 1175.2,881.6 1180.7,871.7 1187.9,859.9 1198.8,853.6 1209.6,848.1" fill="none" stroke="#8c564b" stroke-width="5.4" stroke-linejoin="round" stroke-linecap="butt"/>
<polyline points="892.7,930.5 1100.0,928.0 1130.0,925.1 1155.3,916.0 1166.2,914.2 1177.1,902.4 1186.1,893.4 1198.8,885.2 1209.6,878.0" fill="none" stroke="#e377c2" stroke-width="5.4" stroke-linejoin="round" stroke-linecap="butt"/>
<polyline points="892.7,931.5 1209.0,930.5" fill="none" stroke="#7f7f7f" stroke-width="5.4" stroke-linejoin="round" stroke-linecap="butt"/>
<polyline points="892.7,930.5 1100.0,928.5 1209.0,916.0" fill="none" stroke="#bcbd22" stroke-width="5.4" stroke-linejoin="round" stroke-linecap="butt"/>
<polyline points="896.3,669.6 906.7,672.0 917.1,676.1 927.5,683.4 937.9,690.7 948.3,694.0 958.8,698.1 969.2,705.4 979.6,712.7 990.0,722.5 1000.4,727.4 1010.8,735.6 1021.2,744.2 1031.6,752.7 1042.0,761.1 1052.5,772.6 1062.9,779.8 1073.3,791.3 1083.7,799.7 1094.1,808.4 1104.5,819.6 1114.9,829.9 1125.3,845.8 1135.7,846.8 1146.1,856.0 1156.5,891.6 1167.0,893.4 1177.4,907.0 1187.8,914.2 1198.2,924.6 1208.6,926.0" fill="none" stroke="#1f77b4" stroke-opacity="0.14" stroke-width="2.6" stroke-linejoin="round"/>
<g fill="#1f77b4"><circle cx="896.3" cy="669.6" r="4.3"/><circle cx="906.7" cy="672.0" r="4.3"/><circle cx="917.1" cy="676.1" r="4.3"/><circle cx="927.5" cy="683.4" r="4.3"/><circle cx="937.9" cy="690.7" r="4.3"/><circle cx="948.3" cy="694.0" r="4.3"/><circle cx="958.8" cy="698.1" r="4.3"/><circle cx="969.2" cy="705.4" r="4.3"/><circle cx="979.6" cy="712.7" r="4.3"/><circle cx="990.0" cy="722.5" r="4.3"/><circle cx="1000.4" cy="727.4" r="4.3"/><circle cx="1010.8" cy="735.6" r="4.3"/><circle cx="1021.2" cy="744.2" r="4.3"/><circle cx="1031.6" cy="752.7" r="4.3"/><circle cx="1042.0" cy="761.1" r="4.3"/><circle cx="1052.5" cy="772.6" r="4.3"/><circle cx="1062.9" cy="779.8" r="4.3"/><circle cx="1073.3" cy="791.3" r="4.3"/><circle cx="1083.7" cy="799.7" r="4.3"/><circle cx="1094.1" cy="808.4" r="4.3"/><circle cx="1104.5" cy="819.6" r="4.3"/><circle cx="1114.9" cy="829.9" r="4.3"/><circle cx="1125.3" cy="845.8" r="4.3"/><circle cx="1135.7" cy="846.8" r="4.3"/><circle cx="1146.1" cy="856.0" r="4.3"/><circle cx="1156.5" cy="891.6" r="4.3"/><circle cx="1167.0" cy="893.4" r="4.3"/><circle cx="1177.4" cy="907.0" r="4.3"/><circle cx="1187.8" cy="914.2" r="4.3"/><circle cx="1198.2" cy="924.6" r="4.3"/><circle cx="1208.6" cy="926.0" r="4.3"/></g>
<polyline points="896.3,876.3 906.7,874.2 917.1,871.0 927.5,864.8 937.9,858.3 948.3,856.3 958.8,851.2 969.2,846.0 979.6,839.7 990.0,833.4 1000.4,827.5 1010.8,822.2 1021.2,816.2 1031.6,810.5 1042.0,804.8 1052.5,797.5 1062.9,793.4 1073.3,788.5 1083.7,783.0 1094.1,777.6 1104.5,772.6 1114.9,771.7 1125.3,768.0 1135.7,768.0 1146.1,777.1 1156.5,790.3 1167.0,792.5 1177.4,807.3 1187.8,851.3 1198.2,871.7 1208.6,890.7" fill="none" stroke="#ff7f0e" stroke-opacity="0.14" stroke-width="2.6" stroke-linejoin="round"/>
<g fill="#ff7f0e"><circle cx="896.3" cy="876.3" r="4.3"/><circle cx="906.7" cy="874.2" r="4.3"/><circle cx="917.1" cy="871.0" r="4.3"/><circle cx="927.5" cy="864.8" r="4.3"/><circle cx="937.9" cy="858.3" r="4.3"/><circle cx="948.3" cy="856.3" r="4.3"/><circle cx="958.8" cy="851.2" r="4.3"/><circle cx="969.2" cy="846.0" r="4.3"/><circle cx="979.6" cy="839.7" r="4.3"/><circle cx="990.0" cy="833.4" r="4.3"/><circle cx="1000.4" cy="827.5" r="4.3"/><circle cx="1010.8" cy="822.2" r="4.3"/><circle cx="1021.2" cy="816.2" r="4.3"/><circle cx="1031.6" cy="810.5" r="4.3"/><circle cx="1042.0" cy="804.8" r="4.3"/><circle cx="1052.5" cy="797.5" r="4.3"/><circle cx="1062.9" cy="793.4" r="4.3"/><circle cx="1073.3" cy="788.5" r="4.3"/><circle cx="1083.7" cy="783.0" r="4.3"/><circle cx="1094.1" cy="777.6" r="4.3"/><circle cx="1104.5" cy="772.6" r="4.3"/><circle cx="1114.9" cy="771.7" r="4.3"/><circle cx="1125.3" cy="768.0" r="4.3"/><circle cx="1135.7" cy="768.0" r="4.3"/><circle cx="1146.1" cy="777.1" r="4.3"/><circle cx="1156.5" cy="790.3" r="4.3"/><circle cx="1167.0" cy="792.5" r="4.3"/><circle cx="1177.4" cy="807.3" r="4.3"/><circle cx="1187.8" cy="851.3" r="4.3"/><circle cx="1198.2" cy="871.7" r="4.3"/><circle cx="1208.6" cy="890.7" r="4.3"/></g>
<polyline points="896.3,930.4 906.7,930.2 917.1,930.0 927.5,929.7 937.9,929.5 948.3,929.3 958.8,929.1 969.2,928.9 979.6,928.7 990.0,928.4 1000.4,928.2 1010.8,928.0 1021.2,925.6 1031.6,924.9 1042.0,924.2 1052.5,923.4 1062.9,924.5 1073.3,921.8 1083.7,921.8 1094.1,924.5 1104.5,923.6 1114.9,919.1 1125.3,915.5 1135.7,916.9 1146.1,897.0 1156.5,886.2 1167.0,885.7 1177.4,882.5 1187.8,843.6 1198.2,843.2 1208.6,841.4" fill="none" stroke="#2ca02c" stroke-opacity="0.14" stroke-width="2.6" stroke-linejoin="round"/>
<g fill="#2ca02c"><circle cx="896.3" cy="930.4" r="4.3"/><circle cx="906.7" cy="930.2" r="4.3"/><circle cx="917.1" cy="930.0" r="4.3"/><circle cx="927.5" cy="929.7" r="4.3"/><circle cx="937.9" cy="929.5" r="4.3"/><circle cx="948.3" cy="929.3" r="4.3"/><circle cx="958.8" cy="929.1" r="4.3"/><circle cx="969.2" cy="928.9" r="4.3"/><circle cx="979.6" cy="928.7" r="4.3"/><circle cx="990.0" cy="928.4" r="4.3"/><circle cx="1000.4" cy="928.2" r="4.3"/><circle cx="1010.8" cy="928.0" r="4.3"/><circle cx="1021.2" cy="925.6" r="4.3"/><circle cx="1031.6" cy="924.9" r="4.3"/><circle cx="1042.0" cy="924.2" r="4.3"/><circle cx="1052.5" cy="923.4" r="4.3"/><circle cx="1062.9" cy="924.5" r="4.3"/><circle cx="1073.3" cy="921.8" r="4.3"/><circle cx="1083.7" cy="921.8" r="4.3"/><circle cx="1094.1" cy="924.5" r="4.3"/><circle cx="1104.5" cy="923.6" r="4.3"/><circle cx="1114.9" cy="919.1" r="4.3"/><circle cx="1125.3" cy="915.5" r="4.3"/><circle cx="1135.7" cy="916.9" r="4.3"/><circle cx="1146.1" cy="897.0" r="4.3"/><circle cx="1156.5" cy="886.2" r="4.3"/><circle cx="1167.0" cy="885.7" r="4.3"/><circle cx="1177.4" cy="882.5" r="4.3"/><circle cx="1187.8" cy="843.6" r="4.3"/><circle cx="1198.2" cy="843.2" r="4.3"/><circle cx="1208.6" cy="841.4" r="4.3"/></g>
<polyline points="896.3,931.0 906.7,931.0 917.1,930.9 927.5,930.9 937.9,930.8 948.3,930.8 958.8,930.8 969.2,930.7 979.6,930.7 990.0,930.7 1000.4,930.6 1010.8,930.6 1021.2,930.5 1031.6,930.5 1042.0,930.5 1052.5,930.4 1062.9,930.4 1073.3,930.3 1083.7,930.3 1094.1,930.3 1104.5,930.2 1114.9,930.2 1125.3,930.2 1135.7,930.1 1146.1,930.1 1156.5,930.0 1167.0,930.0 1177.4,918.0 1187.8,907.0 1198.2,897.9 1208.6,888.9" fill="none" stroke="#d62728" stroke-opacity="0.14" stroke-width="2.6" stroke-linejoin="round"/>
<g fill="#d62728"><circle cx="896.3" cy="931.0" r="4.3"/><circle cx="906.7" cy="931.0" r="4.3"/><circle cx="917.1" cy="930.9" r="4.3"/><circle cx="927.5" cy="930.9" r="4.3"/><circle cx="937.9" cy="930.8" r="4.3"/><circle cx="948.3" cy="930.8" r="4.3"/><circle cx="958.8" cy="930.8" r="4.3"/><circle cx="969.2" cy="930.7" r="4.3"/><circle cx="979.6" cy="930.7" r="4.3"/><circle cx="990.0" cy="930.7" r="4.3"/><circle cx="1000.4" cy="930.6" r="4.3"/><circle cx="1010.8" cy="930.6" r="4.3"/><circle cx="1021.2" cy="930.5" r="4.3"/><circle cx="1031.6" cy="930.5" r="4.3"/><circle cx="1042.0" cy="930.5" r="4.3"/><circle cx="1052.5" cy="930.4" r="4.3"/><circle cx="1062.9" cy="930.4" r="4.3"/><circle cx="1073.3" cy="930.3" r="4.3"/><circle cx="1083.7" cy="930.3" r="4.3"/><circle cx="1094.1" cy="930.3" r="4.3"/><circle cx="1104.5" cy="930.2" r="4.3"/><circle cx="1114.9" cy="930.2" r="4.3"/><circle cx="1125.3" cy="930.2" r="4.3"/><circle cx="1135.7" cy="930.1" r="4.3"/><circle cx="1146.1" cy="930.1" r="4.3"/><circle cx="1156.5" cy="930.0" r="4.3"/><circle cx="1167.0" cy="930.0" r="4.3"/><circle cx="1177.4" cy="918.0" r="4.3"/><circle cx="1187.8" cy="907.0" r="4.3"/><circle cx="1198.2" cy="897.9" r="4.3"/><circle cx="1208.6" cy="888.9" r="4.3"/></g>
<polyline points="896.3,927.5 906.7,926.7 917.1,925.9 927.5,925.1 937.9,924.2 948.3,923.4 958.8,922.6 969.2,921.8 979.6,921.0 990.0,920.0 1000.4,918.0 1010.8,917.0 1021.2,915.5 1031.6,914.0 1042.0,912.0 1052.5,910.0 1062.9,908.2 1073.3,905.0 1083.7,901.0 1094.1,895.6 1104.5,890.5 1114.9,888.7 1125.3,880.2 1135.7,878.0 1146.1,871.7 1156.5,862.6 1167.0,859.0 1177.4,841.8 1187.8,858.6 1198.2,860.8 1208.6,861.7" fill="none" stroke="#9467bd" stroke-opacity="0.14" stroke-width="2.6" stroke-linejoin="round"/>
<g fill="#9467bd"><circle cx="896.3" cy="927.5" r="4.3"/><circle cx="906.7" cy="926.7" r="4.3"/><circle cx="917.1" cy="925.9" r="4.3"/><circle cx="927.5" cy="925.1" r="4.3"/><circle cx="937.9" cy="924.2" r="4.3"/><circle cx="948.3" cy="923.4" r="4.3"/><circle cx="958.8" cy="922.6" r="4.3"/><circle cx="969.2" cy="921.8" r="4.3"/><circle cx="979.6" cy="921.0" r="4.3"/><circle cx="990.0" cy="920.0" r="4.3"/><circle cx="1000.4" cy="918.0" r="4.3"/><circle cx="1010.8" cy="917.0" r="4.3"/><circle cx="1021.2" cy="915.5" r="4.3"/><circle cx="1031.6" cy="914.0" r="4.3"/><circle cx="1042.0" cy="912.0" r="4.3"/><circle cx="1052.5" cy="910.0" r="4.3"/><circle cx="1062.9" cy="908.2" r="4.3"/><circle cx="1073.3" cy="905.0" r="4.3"/><circle cx="1083.7" cy="901.0" r="4.3"/><circle cx="1094.1" cy="895.6" r="4.3"/><circle cx="1104.5" cy="890.5" r="4.3"/><circle cx="1114.9" cy="888.7" r="4.3"/><circle cx="1125.3" cy="880.2" r="4.3"/><circle cx="1135.7" cy="878.0" r="4.3"/><circle cx="1146.1" cy="871.7" r="4.3"/><circle cx="1156.5" cy="862.6" r="4.3"/><circle cx="1167.0" cy="859.0" r="4.3"/><circle cx="1177.4" cy="841.8" r="4.3"/><circle cx="1187.8" cy="858.6" r="4.3"/><circle cx="1198.2" cy="860.8" r="4.3"/><circle cx="1208.6" cy="861.7" r="4.3"/></g>
<polyline points="896.3,931.0 906.7,931.0 917.1,930.9 927.5,930.9 937.9,930.9 948.3,930.8 958.8,930.8 969.2,930.8 979.6,930.7 990.0,930.7 1000.4,930.7 1010.8,930.6 1021.2,930.6 1031.6,930.6 1042.0,930.5 1052.5,930.5 1062.9,930.5 1073.3,930.4 1083.7,930.4 1094.1,930.4 1104.5,930.3 1114.9,930.3 1125.3,930.3 1135.7,930.2 1146.1,930.2 1156.5,930.2 1167.0,930.1 1177.4,930.1 1187.8,930.1 1198.2,930.0 1208.6,930.0" fill="none" stroke="#8c564b" stroke-opacity="0.14" stroke-width="2.6" stroke-linejoin="round"/>
<g fill="#8c564b"><circle cx="896.3" cy="931.0" r="4.3"/><circle cx="906.7" cy="931.0" r="4.3"/><circle cx="917.1" cy="930.9" r="4.3"/><circle cx="927.5" cy="930.9" r="4.3"/><circle cx="937.9" cy="930.9" r="4.3"/><circle cx="948.3" cy="930.8" r="4.3"/><circle cx="958.8" cy="930.8" r="4.3"/><circle cx="969.2" cy="930.8" r="4.3"/><circle cx="979.6" cy="930.7" r="4.3"/><circle cx="990.0" cy="930.7" r="4.3"/><circle cx="1000.4" cy="930.7" r="4.3"/><circle cx="1010.8" cy="930.6" r="4.3"/><circle cx="1021.2" cy="930.6" r="4.3"/><circle cx="1031.6" cy="930.6" r="4.3"/><circle cx="1042.0" cy="930.5" r="4.3"/><circle cx="1052.5" cy="930.5" r="4.3"/><circle cx="1062.9" cy="930.5" r="4.3"/><circle cx="1073.3" cy="930.4" r="4.3"/><circle cx="1083.7" cy="930.4" r="4.3"/><circle cx="1094.1" cy="930.4" r="4.3"/><circle cx="1104.5" cy="930.3" r="4.3"/><circle cx="1114.9" cy="930.3" r="4.3"/><circle cx="1125.3" cy="930.3" r="4.3"/><circle cx="1135.7" cy="930.2" r="4.3"/><circle cx="1146.1" cy="930.2" r="4.3"/><circle cx="1156.5" cy="930.2" r="4.3"/><circle cx="1167.0" cy="930.1" r="4.3"/><circle cx="1177.4" cy="930.1" r="4.3"/><circle cx="1187.8" cy="930.1" r="4.3"/><circle cx="1198.2" cy="930.0" r="4.3"/><circle cx="1208.6" cy="930.0" r="4.3"/></g>
<polyline points="896.3,931.0 906.7,930.9 917.1,930.8 927.5,930.7 937.9,930.5 948.3,930.4 958.8,930.3 969.2,930.2 979.6,930.1 990.0,930.0 1000.4,929.8 1010.8,929.7 1021.2,929.6 1031.6,929.5 1042.0,929.4 1052.5,929.3 1062.9,929.2 1073.3,929.0 1083.7,928.9 1094.1,928.8 1104.5,928.7 1114.9,928.6 1125.3,928.5 1135.7,928.3 1146.1,928.2 1156.5,928.1 1167.0,928.0 1177.4,911.5 1187.8,905.2 1198.2,895.2 1208.6,886.2" fill="none" stroke="#e377c2" stroke-opacity="0.14" stroke-width="2.6" stroke-linejoin="round"/>
<g fill="#e377c2"><circle cx="896.3" cy="931.0" r="4.3"/><circle cx="906.7" cy="930.9" r="4.3"/><circle cx="917.1" cy="930.8" r="4.3"/><circle cx="927.5" cy="930.7" r="4.3"/><circle cx="937.9" cy="930.5" r="4.3"/><circle cx="948.3" cy="930.4" r="4.3"/><circle cx="958.8" cy="930.3" r="4.3"/><circle cx="969.2" cy="930.2" r="4.3"/><circle cx="979.6" cy="930.1" r="4.3"/><circle cx="990.0" cy="930.0" r="4.3"/><circle cx="1000.4" cy="929.8" r="4.3"/><circle cx="1010.8" cy="929.7" r="4.3"/><circle cx="1021.2" cy="929.6" r="4.3"/><circle cx="1031.6" cy="929.5" r="4.3"/><circle cx="1042.0" cy="929.4" r="4.3"/><circle cx="1052.5" cy="929.3" r="4.3"/><circle cx="1062.9" cy="929.2" r="4.3"/><circle cx="1073.3" cy="929.0" r="4.3"/><circle cx="1083.7" cy="928.9" r="4.3"/><circle cx="1094.1" cy="928.8" r="4.3"/><circle cx="1104.5" cy="928.7" r="4.3"/><circle cx="1114.9" cy="928.6" r="4.3"/><circle cx="1125.3" cy="928.5" r="4.3"/><circle cx="1135.7" cy="928.3" r="4.3"/><circle cx="1146.1" cy="928.2" r="4.3"/><circle cx="1156.5" cy="928.1" r="4.3"/><circle cx="1167.0" cy="928.0" r="4.3"/><circle cx="1177.4" cy="911.5" r="4.3"/><circle cx="1187.8" cy="905.2" r="4.3"/><circle cx="1198.2" cy="895.2" r="4.3"/><circle cx="1208.6" cy="886.2" r="4.3"/></g>
<polyline points="896.3,931.8 906.7,931.8 917.1,931.8 927.5,931.8 937.9,931.8 948.3,931.8 958.8,931.8 969.2,931.8 979.6,931.8 990.0,931.8 1000.4,931.8 1010.8,931.8 1021.2,931.8 1031.6,931.8 1042.0,931.8 1052.5,931.8 1062.9,931.8 1073.3,931.8 1083.7,931.8 1094.1,931.8 1104.5,931.8 1114.9,931.8 1125.3,931.8 1135.7,932.3 1146.1,932.0 1156.5,931.5 1167.0,931.2 1177.4,931.0 1187.8,930.5 1198.2,930.2 1208.6,930.0" fill="none" stroke="#7f7f7f" stroke-opacity="0.14" stroke-width="2.6" stroke-linejoin="round"/>
<g fill="#7f7f7f"><circle cx="896.3" cy="931.8" r="4.3"/><circle cx="906.7" cy="931.8" r="4.3"/><circle cx="917.1" cy="931.8" r="4.3"/><circle cx="927.5" cy="931.8" r="4.3"/><circle cx="937.9" cy="931.8" r="4.3"/><circle cx="948.3" cy="931.8" r="4.3"/><circle cx="958.8" cy="931.8" r="4.3"/><circle cx="969.2" cy="931.8" r="4.3"/><circle cx="979.6" cy="931.8" r="4.3"/><circle cx="990.0" cy="931.8" r="4.3"/><circle cx="1000.4" cy="931.8" r="4.3"/><circle cx="1010.8" cy="931.8" r="4.3"/><circle cx="1021.2" cy="931.8" r="4.3"/><circle cx="1031.6" cy="931.8" r="4.3"/><circle cx="1042.0" cy="931.8" r="4.3"/><circle cx="1052.5" cy="931.8" r="4.3"/><circle cx="1062.9" cy="931.8" r="4.3"/><circle cx="1073.3" cy="931.8" r="4.3"/><circle cx="1083.7" cy="931.8" r="4.3"/><circle cx="1094.1" cy="931.8" r="4.3"/><circle cx="1104.5" cy="931.8" r="4.3"/><circle cx="1114.9" cy="931.8" r="4.3"/><circle cx="1125.3" cy="931.8" r="4.3"/><circle cx="1135.7" cy="932.3" r="4.3"/><circle cx="1146.1" cy="932.0" r="4.3"/><circle cx="1156.5" cy="931.5" r="4.3"/><circle cx="1167.0" cy="931.2" r="4.3"/><circle cx="1177.4" cy="931.0" r="4.3"/><circle cx="1187.8" cy="930.5" r="4.3"/><circle cx="1198.2" cy="930.2" r="4.3"/><circle cx="1208.6" cy="930.0" r="4.3"/></g>
<polyline points="896.3,930.5 906.7,930.4 917.1,930.3 927.5,930.2 937.9,930.1 948.3,930.0 958.8,930.0 969.2,929.9 979.6,929.8 990.0,929.7 1000.4,929.6 1010.8,929.5 1021.2,929.4 1031.6,929.3 1042.0,929.2 1052.5,929.1 1062.9,929.0 1073.3,929.0 1083.7,928.9 1094.1,928.8 1104.5,928.7 1114.9,928.6 1125.3,928.5 1135.7,927.8 1146.1,927.3 1156.5,925.5 1167.0,925.5 1177.4,923.7 1187.8,920.1 1198.2,918.3 1208.6,916.0" fill="none" stroke="#bcbd22" stroke-opacity="0.14" stroke-width="2.6" stroke-linejoin="round"/>
<g fill="#bcbd22"><circle cx="896.3" cy="930.5" r="4.3"/><circle cx="906.7" cy="930.4" r="4.3"/><circle cx="917.1" cy="930.3" r="4.3"/><circle cx="927.5" cy="930.2" r="4.3"/><circle cx="937.9" cy="930.1" r="4.3"/><circle cx="948.3" cy="930.0" r="4.3"/><circle cx="958.8" cy="930.0" r="4.3"/><circle cx="969.2" cy="929.9" r="4.3"/><circle cx="979.6" cy="929.8" r="4.3"/><circle cx="990.0" cy="929.7" r="4.3"/><circle cx="1000.4" cy="929.6" r="4.3"/><circle cx="1010.8" cy="929.5" r="4.3"/><circle cx="1021.2" cy="929.4" r="4.3"/><circle cx="1031.6" cy="929.3" r="4.3"/><circle cx="1042.0" cy="929.2" r="4.3"/><circle cx="1052.5" cy="929.1" r="4.3"/><circle cx="1062.9" cy="929.0" r="4.3"/><circle cx="1073.3" cy="929.0" r="4.3"/><circle cx="1083.7" cy="928.9" r="4.3"/><circle cx="1094.1" cy="928.8" r="4.3"/><circle cx="1104.5" cy="928.7" r="4.3"/><circle cx="1114.9" cy="928.6" r="4.3"/><circle cx="1125.3" cy="928.5" r="4.3"/><circle cx="1135.7" cy="927.8" r="4.3"/><circle cx="1146.1" cy="927.3" r="4.3"/><circle cx="1156.5" cy="925.5" r="4.3"/><circle cx="1167.0" cy="925.5" r="4.3"/><circle cx="1177.4" cy="923.7" r="4.3"/><circle cx="1187.8" cy="920.1" r="4.3"/><circle cx="1198.2" cy="918.3" r="4.3"/><circle cx="1208.6" cy="916.0" r="4.3"/></g>
</g>
<rect x="182.2" y="184.5" width="520.6" height="336.0" fill="none" stroke="#000" stroke-width="4.5" stroke-linejoin="miter"/>
<line x1="162.6" y1="187.3" x2="182.2" y2="187.3" stroke="#000" stroke-width="4.5"/>
<line x1="162.6" y1="346.1" x2="182.2" y2="346.1" stroke="#000" stroke-width="4.5"/>
<line x1="162.6" y1="504.9" x2="182.2" y2="504.9" stroke="#000" stroke-width="4.5"/>
<line x1="182.2" y1="520.5" x2="182.2" y2="540.3" stroke="#000" stroke-width="4.5"/>
<line x1="494.6" y1="520.5" x2="494.6" y2="540.3" stroke="#000" stroke-width="4.5"/>
<rect x="822.7" y="184.5" width="520.9" height="336.0" fill="none" stroke="#000" stroke-width="4.5" stroke-linejoin="miter"/>
<line x1="803.1" y1="187.3" x2="822.7" y2="187.3" stroke="#000" stroke-width="4.5"/>
<line x1="803.1" y1="346.1" x2="822.7" y2="346.1" stroke="#000" stroke-width="4.5"/>
<line x1="803.1" y1="504.9" x2="822.7" y2="504.9" stroke="#000" stroke-width="4.5"/>
<line x1="822.7" y1="520.5" x2="822.7" y2="540.3" stroke="#000" stroke-width="4.5"/>
<line x1="1135.1" y1="520.5" x2="1135.1" y2="540.3" stroke="#000" stroke-width="4.5"/>
<rect x="182.2" y="609.7" width="520.6" height="336.4" fill="none" stroke="#000" stroke-width="4.5" stroke-linejoin="miter"/>
<line x1="162.6" y1="613.0" x2="182.2" y2="613.0" stroke="#000" stroke-width="4.5"/>
<line x1="162.6" y1="771.7" x2="182.2" y2="771.7" stroke="#000" stroke-width="4.5"/>
<line x1="162.6" y1="930.4" x2="182.2" y2="930.4" stroke="#000" stroke-width="4.5"/>
<line x1="182.2" y1="946.1" x2="182.2" y2="965.9" stroke="#000" stroke-width="4.5"/>
<line x1="494.6" y1="946.1" x2="494.6" y2="965.9" stroke="#000" stroke-width="4.5"/>
<rect x="822.7" y="609.7" width="520.9" height="336.4" fill="none" stroke="#000" stroke-width="4.5" stroke-linejoin="miter"/>
<line x1="803.1" y1="613.0" x2="822.7" y2="613.0" stroke="#000" stroke-width="4.5"/>
<line x1="803.1" y1="771.7" x2="822.7" y2="771.7" stroke="#000" stroke-width="4.5"/>
<line x1="803.1" y1="930.4" x2="822.7" y2="930.4" stroke="#000" stroke-width="4.5"/>
<line x1="822.7" y1="946.1" x2="822.7" y2="965.9" stroke="#000" stroke-width="4.5"/>
<line x1="1135.1" y1="946.1" x2="1135.1" y2="965.9" stroke="#000" stroke-width="4.5"/>
<text x="140.6" y="204.9" font-family="Liberation Sans, sans-serif" font-size="51" text-anchor="end">1.0</text>
<text x="140.6" y="363.7" font-family="Liberation Sans, sans-serif" font-size="51" text-anchor="end">0.5</text>
<text x="140.6" y="522.5" font-family="Liberation Sans, sans-serif" font-size="51" text-anchor="end">0.0</text>
<text x="140.6" y="630.6" font-family="Liberation Sans, sans-serif" font-size="51" text-anchor="end">1.0</text>
<text x="140.6" y="789.3" font-family="Liberation Sans, sans-serif" font-size="51" text-anchor="end">0.5</text>
<text x="140.6" y="948.0" font-family="Liberation Sans, sans-serif" font-size="51" text-anchor="end">0.0</text>
<text x="145.4" y="1023.8" font-family="Liberation Sans, sans-serif" font-size="51" text-anchor="middle">1</text>
<text x="174.2" y="1023.8" font-family="Liberation Sans, sans-serif" font-size="51" text-anchor="middle">0</text>
<rect x="192.1" y="995.0" width="20.7" height="2.7" fill="#000"/>
<text x="227.0" y="1007.2" font-family="Liberation Sans, sans-serif" font-size="35" text-anchor="middle">5</text>
<text x="457.8" y="1023.8" font-family="Liberation Sans, sans-serif" font-size="51" text-anchor="middle">1</text>
<text x="486.6" y="1023.8" font-family="Liberation Sans, sans-serif" font-size="51" text-anchor="middle">0</text>
<rect x="504.5" y="995.0" width="20.7" height="2.7" fill="#000"/>
<text x="539.4" y="1007.2" font-family="Liberation Sans, sans-serif" font-size="35" text-anchor="middle">2</text>
<text x="443.0" y="1092" font-family="Liberation Sans, sans-serif" font-size="48" text-anchor="middle">p</text>
<text x="785.9" y="1023.8" font-family="Liberation Sans, sans-serif" font-size="51" text-anchor="middle">1</text>
<text x="814.7" y="1023.8" font-family="Liberation Sans, sans-serif" font-size="51" text-anchor="middle">0</text>
<rect x="832.6" y="995.0" width="20.7" height="2.7" fill="#000"/>
<text x="867.5" y="1007.2" font-family="Liberation Sans, sans-serif" font-size="35" text-anchor="middle">5</text>
<text x="1098.3" y="1023.8" font-family="Liberation Sans, sans-serif" font-size="51" text-anchor="middle">1</text>
<text x="1127.1" y="1023.8" font-family="Liberation Sans, sans-serif" font-size="51" text-anchor="middle">0</text>
<rect x="1145.0" y="995.0" width="20.7" height="2.7" fill="#000"/>
<text x="1179.9" y="1007.2" font-family="Liberation Sans, sans-serif" font-size="35" text-anchor="middle">2</text>
<text x="1083.0" y="1092" font-family="Liberation Sans, sans-serif" font-size="48" text-anchor="middle">p</text>
<text transform="translate(39.2,357.6) rotate(-90) scale(0.945,1)" font-family="Liberation Sans, sans-serif" font-size="50" text-anchor="middle">P(X)</text>
<text transform="translate(39.2,784.0) rotate(-90) scale(0.945,1)" font-family="Liberation Sans, sans-serif" font-size="50" text-anchor="middle">P(X)</text>
<text x="27.4" y="186.0" font-family="Liberation Sans, sans-serif" font-weight="bold" font-size="43" text-anchor="middle">A</text>
<text x="772.8" y="185.6" font-family="Liberation Sans, sans-serif" font-weight="bold" font-size="43" text-anchor="middle">B</text>
<text x="26.0" y="597.5" font-family="Liberation Sans, sans-serif" font-weight="bold" font-size="43" text-anchor="middle">C</text>
<text x="781.0" y="603.3" font-family="Liberation Sans, sans-serif" font-weight="bold" font-size="43" text-anchor="middle">D</text>
<circle cx="295.9" cy="26.4" r="9.2" fill="#1f77b4"/>
<rect x="408.0" y="22.1" width="22.4" height="2.9" fill="#000"/>
<rect x="490.7" y="22.1" width="22.4" height="2.9" fill="#000"/>
<text x="370.5" y="34.3" font-family="Liberation Sans, sans-serif" font-size="37" text-anchor="middle">3</text>
<text x="389.2" y="20.0" font-family="Liberation Sans, sans-serif" font-size="23.5" text-anchor="middle">0</text>
<text x="451.8" y="34.3" font-family="Liberation Sans, sans-serif" font-size="37" text-anchor="middle">2</text>
<text x="471.1" y="20.0" font-family="Liberation Sans, sans-serif" font-size="23.5" text-anchor="middle">0</text>
<text x="534.0" y="34.3" font-family="Liberation Sans, sans-serif" font-size="37" text-anchor="middle">1</text>
<text x="553.8" y="20.0" font-family="Liberation Sans, sans-serif" font-size="23.5" text-anchor="middle">0</text>
<circle cx="295.9" cy="81.0" r="9.2" fill="#ff7f0e"/>
<rect x="408.0" y="75.8" width="22.4" height="2.9" fill="#000"/>
<rect x="490.7" y="75.8" width="22.4" height="2.9" fill="#000"/>
<text x="370.5" y="88.0" font-family="Liberation Sans, sans-serif" font-size="37" text-anchor="middle">3</text>
<text x="389.2" y="73.7" font-family="Liberation Sans, sans-serif" font-size="23.5" text-anchor="middle">0</text>
<text x="451.8" y="88.0" font-family="Liberation Sans, sans-serif" font-size="37" text-anchor="middle">2</text>
<text x="471.1" y="73.7" font-family="Liberation Sans, sans-serif" font-size="23.5" text-anchor="middle">0</text>
<text x="534.0" y="88.0" font-family="Liberation Sans, sans-serif" font-size="37" text-anchor="middle">1</text>
<text x="553.8" y="73.7" font-family="Liberation Sans, sans-serif" font-size="23.5" text-anchor="middle">1</text>
<circle cx="295.9" cy="134.5" r="9.2" fill="#2ca02c"/>
<rect x="408.0" y="129.5" width="22.4" height="2.9" fill="#000"/>
<rect x="490.7" y="129.5" width="22.4" height="2.9" fill="#000"/>
<text x="370.5" y="141.7" font-family="Liberation Sans, sans-serif" font-size="37" text-anchor="middle">3</text>
<text x="389.2" y="127.4" font-family="Liberation Sans, sans-serif" font-size="23.5" text-anchor="middle">0</text>
<text x="451.8" y="141.7" font-family="Liberation Sans, sans-serif" font-size="37" text-anchor="middle">2</text>
<text x="471.1" y="127.4" font-family="Liberation Sans, sans-serif" font-size="23.5" text-anchor="middle">0</text>
<text x="534.0" y="141.7" font-family="Liberation Sans, sans-serif" font-size="37" text-anchor="middle">1</text>
<text x="553.8" y="127.4" font-family="Liberation Sans, sans-serif" font-size="23.5" text-anchor="middle">2</text>
<circle cx="666.3" cy="26.4" r="9.2" fill="#d62728"/>
<rect x="778.4" y="22.1" width="22.4" height="2.9" fill="#000"/>
<rect x="861.1" y="22.1" width="22.4" height="2.9" fill="#000"/>
<text x="740.9" y="34.3" font-family="Liberation Sans, sans-serif" font-size="37" text-anchor="middle">3</text>
<text x="759.6" y="20.0" font-family="Liberation Sans, sans-serif" font-size="23.5" text-anchor="middle">0</text>
<text x="822.1" y="34.3" font-family="Liberation Sans, sans-serif" font-size="37" text-anchor="middle">2</text>
<text x="841.5" y="20.0" font-family="Liberation Sans, sans-serif" font-size="23.5" text-anchor="middle">0</text>
<text x="904.4" y="34.3" font-family="Liberation Sans, sans-serif" font-size="37" text-anchor="middle">1</text>
<text x="924.2" y="20.0" font-family="Liberation Sans, sans-serif" font-size="23.5" text-anchor="middle">3</text>
<circle cx="666.3" cy="81.0" r="9.2" fill="#9467bd"/>
<rect x="778.4" y="75.8" width="22.4" height="2.9" fill="#000"/>
<rect x="861.1" y="75.8" width="22.4" height="2.9" fill="#000"/>
<text x="740.9" y="88.0" font-family="Liberation Sans, sans-serif" font-size="37" text-anchor="middle">3</text>
<text x="759.6" y="73.7" font-family="Liberation Sans, sans-serif" font-size="23.5" text-anchor="middle">0</text>
<text x="822.1" y="88.0" font-family="Liberation Sans, sans-serif" font-size="37" text-anchor="middle">2</text>
<text x="841.5" y="73.7" font-family="Liberation Sans, sans-serif" font-size="23.5" text-anchor="middle">1</text>
<text x="904.4" y="88.0" font-family="Liberation Sans, sans-serif" font-size="37" text-anchor="middle">1</text>
<text x="924.2" y="73.7" font-family="Liberation Sans, sans-serif" font-size="23.5" text-anchor="middle">0</text>
<circle cx="666.3" cy="134.5" r="9.2" fill="#8c564b"/>
<rect x="778.4" y="129.5" width="22.4" height="2.9" fill="#000"/>
<rect x="861.1" y="129.5" width="22.4" height="2.9" fill="#000"/>
<text x="740.9" y="141.7" font-family="Liberation Sans, sans-serif" font-size="37" text-anchor="middle">3</text>
<text x="759.6" y="127.4" font-family="Liberation Sans, sans-serif" font-size="23.5" text-anchor="middle">0</text>
<text x="822.1" y="141.7" font-family="Liberation Sans, sans-serif" font-size="37" text-anchor="middle">2</text>
<text x="841.5" y="127.4" font-family="Liberation Sans, sans-serif" font-size="23.5" text-anchor="middle">1</text>
<text x="904.4" y="141.7" font-family="Liberation Sans, sans-serif" font-size="37" text-anchor="middle">1</text>
<text x="924.2" y="127.4" font-family="Liberation Sans, sans-serif" font-size="23.5" text-anchor="middle">1</text>
<circle cx="1036.7" cy="26.4" r="9.2" fill="#e377c2"/>
<rect x="1148.8" y="22.1" width="22.4" height="2.9" fill="#000"/>
<rect x="1231.5" y="22.1" width="22.4" height="2.9" fill="#000"/>
<text x="1111.3" y="34.3" font-family="Liberation Sans, sans-serif" font-size="37" text-anchor="middle">3</text>
<text x="1130.0" y="20.0" font-family="Liberation Sans, sans-serif" font-size="23.5" text-anchor="middle">0</text>
<text x="1192.5" y="34.3" font-family="Liberation Sans, sans-serif" font-size="37" text-anchor="middle">2</text>
<text x="1211.9" y="20.0" font-family="Liberation Sans, sans-serif" font-size="23.5" text-anchor="middle">2</text>
<text x="1274.8" y="34.3" font-family="Liberation Sans, sans-serif" font-size="37" text-anchor="middle">1</text>
<text x="1294.6" y="20.0" font-family="Liberation Sans, sans-serif" font-size="23.5" text-anchor="middle">0</text>
<circle cx="1036.7" cy="81.0" r="9.2" fill="#7f7f7f"/>
<rect x="1148.8" y="75.8" width="22.4" height="2.9" fill="#000"/>
<rect x="1231.5" y="75.8" width="22.4" height="2.9" fill="#000"/>
<text x="1111.3" y="88.0" font-family="Liberation Sans, sans-serif" font-size="37" text-anchor="middle">3</text>
<text x="1130.0" y="73.7" font-family="Liberation Sans, sans-serif" font-size="23.5" text-anchor="middle">0</text>
<text x="1192.5" y="88.0" font-family="Liberation Sans, sans-serif" font-size="37" text-anchor="middle">2</text>
<text x="1211.9" y="73.7" font-family="Liberation Sans, sans-serif" font-size="23.5" text-anchor="middle">3</text>
<text x="1274.8" y="88.0" font-family="Liberation Sans, sans-serif" font-size="37" text-anchor="middle">1</text>
<text x="1294.6" y="73.7" font-family="Liberation Sans, sans-serif" font-size="23.5" text-anchor="middle">0</text>
<circle cx="1036.7" cy="134.5" r="9.2" fill="#bcbd22"/>
<rect x="1148.8" y="129.5" width="22.4" height="2.9" fill="#000"/>
<rect x="1231.5" y="129.5" width="22.4" height="2.9" fill="#000"/>
<text x="1111.3" y="141.7" font-family="Liberation Sans, sans-serif" font-size="37" text-anchor="middle">3</text>
<text x="1130.0" y="127.4" font-family="Liberation Sans, sans-serif" font-size="23.5" text-anchor="middle">1</text>
<text x="1192.5" y="141.7" font-family="Liberation Sans, sans-serif" font-size="37" text-anchor="middle">2</text>
<text x="1211.9" y="127.4" font-family="Liberation Sans, sans-serif" font-size="23.5" text-anchor="middle">0</text>
<text x="1274.8" y="141.7" font-family="Liberation Sans, sans-serif" font-size="37" text-anchor="middle">1</text>
<text x="1294.6" y="127.4" font-family="Liberation Sans, sans-serif" font-size="23.5" text-anchor="middle">0</text>
</svg></body></html>
